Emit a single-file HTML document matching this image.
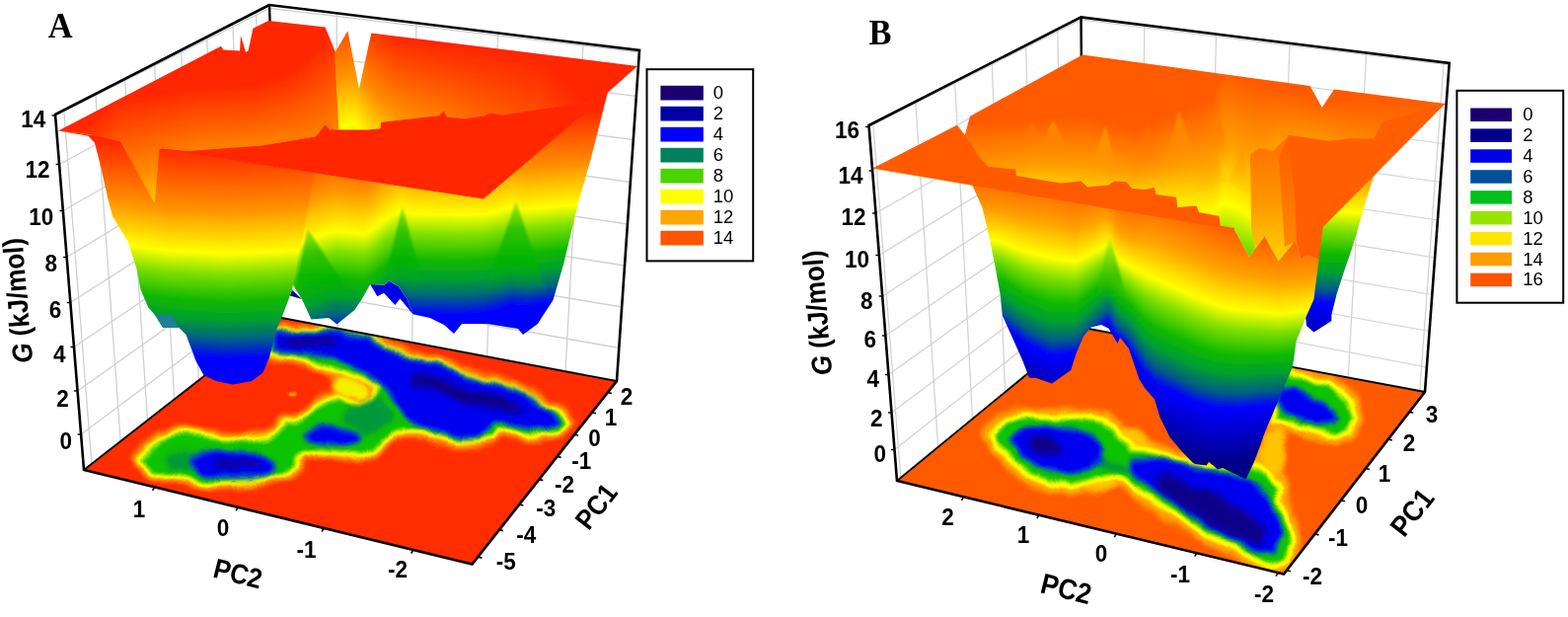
<!DOCTYPE html>
<html lang="en">
<head>
<meta charset="utf-8">
<title>Free energy landscapes</title>
<style>
html,body{margin:0;padding:0;background:#fff;}
body{width:1589px;height:625px;overflow:hidden;}
svg{display:block;}
text{fill:#000;}
</style>
</head>
<body>
<svg width="1589" height="625" viewBox="0 0 1589 625">
<defs>
<filter id="hbl" x="-2%" y="-2%" width="104%" height="104%"><feGaussianBlur stdDeviation="2.2 0"/></filter>
<filter id="bl2" x="-10%" y="-10%" width="120%" height="120%"><feGaussianBlur stdDeviation="2"/></filter>
<filter id="bl3" x="-10%" y="-10%" width="120%" height="120%"><feGaussianBlur stdDeviation="3"/></filter>
<filter id="wob" filterUnits="userSpaceOnUse" x="0" y="280" width="1589" height="345"><feTurbulence type="fractalNoise" baseFrequency="0.035" numOctaves="2" seed="11" result="n"/><feDisplacementMap in="SourceGraphic" in2="n" scale="11" xChannelSelector="R" yChannelSelector="G"/><feGaussianBlur stdDeviation="0.55"/></filter>
<filter id="bl1" x="-10%" y="-10%" width="120%" height="120%"><feGaussianBlur stdDeviation="1.3"/></filter>
<linearGradient id="cmA" gradientUnits="userSpaceOnUse" x1="0" x2="0" y1="0" y2="1"><stop offset="0.000" stop-color="#ff2600"/><stop offset="0.290" stop-color="#ff9000"/><stop offset="0.500" stop-color="#ffff00"/><stop offset="0.600" stop-color="#80e000"/><stop offset="0.730" stop-color="#10b800"/><stop offset="0.820" stop-color="#00a030"/><stop offset="0.900" stop-color="#006a78"/><stop offset="1.000" stop-color="#0000ff"/></linearGradient>
<clipPath id="floorA"><polygon points="85.0,476.0 283.0,321.5 625.0,386.0 478.5,571.5"/></clipPath>
<clipPath id="c1"><polygon points="316.0,174.5 490.0,201.0 616.0,93.0 599.0,160.0 586.0,206.0 578.5,237.0 571.0,268.0 560.5,304.0 550.0,320.0 545.0,328.0 530.0,339.0 525.0,333.0 494.0,328.0 468.0,328.0 460.0,338.0 450.0,329.0 435.7,322.0 418.4,318.3 412.6,303.2 404.0,290.2 394.0,284.5 389.6,288.8 375.2,288.0 366.6,303.2 359.4,314.0 341.4,328.4 333.4,322.0 315.4,323.4 306.0,303.0 296.0,287.0"/></clipPath>
<linearGradient id="c1s0" href="#cmA" y1="143.0" y2="353.0"/>
<linearGradient id="c1s1" href="#cmA" y1="143.0" y2="353.0"/>
<linearGradient id="c1s2" href="#cmA" y1="143.0" y2="353.0"/>
<linearGradient id="c1s3" href="#cmA" y1="142.6" y2="352.4"/>
<linearGradient id="c1s4" href="#cmA" y1="141.8" y2="351.2"/>
<linearGradient id="c1s5" href="#cmA" y1="140.9" y2="350.1"/>
<linearGradient id="c1s6" href="#cmA" y1="140.1" y2="348.9"/>
<linearGradient id="c1s7" href="#cmA" y1="139.3" y2="347.7"/>
<linearGradient id="c1s8" href="#cmA" y1="138.4" y2="346.6"/>
<linearGradient id="c1s9" href="#cmA" y1="137.6" y2="345.4"/>
<linearGradient id="c1s10" href="#cmA" y1="136.8" y2="344.2"/>
<linearGradient id="c1s11" href="#cmA" y1="136.0" y2="343.1"/>
<linearGradient id="c1s12" href="#cmA" y1="135.3" y2="342.0"/>
<linearGradient id="c1s13" href="#cmA" y1="134.5" y2="341.0"/>
<linearGradient id="c1s14" href="#cmA" y1="133.8" y2="339.9"/>
<linearGradient id="c1s15" href="#cmA" y1="133.1" y2="338.8"/>
<linearGradient id="c1s16" href="#cmA" y1="132.4" y2="337.7"/>
<linearGradient id="c1s17" href="#cmA" y1="131.6" y2="336.7"/>
<linearGradient id="c1s18" href="#cmA" y1="131.7" y2="336.7"/>
<linearGradient id="c1s19" href="#cmA" y1="132.0" y2="337.0"/>
<linearGradient id="c1s20" href="#cmA" y1="132.3" y2="337.3"/>
<linearGradient id="c1s21" href="#cmA" y1="132.6" y2="337.6"/>
<linearGradient id="c1s22" href="#cmA" y1="132.9" y2="337.9"/>
<linearGradient id="c1s23" href="#cmA" y1="133.2" y2="338.2"/>
<linearGradient id="c1s24" href="#cmA" y1="133.5" y2="338.5"/>
<linearGradient id="c1s25" href="#cmA" y1="133.8" y2="338.8"/>
<linearGradient id="c1s26" href="#cmA" y1="134.1" y2="339.1"/>
<linearGradient id="c1s27" href="#cmA" y1="134.4" y2="339.4"/>
<linearGradient id="c1s28" href="#cmA" y1="133.4" y2="338.4"/>
<linearGradient id="c1s29" href="#cmA" y1="131.1" y2="336.1"/>
<linearGradient id="c1s30" href="#cmA" y1="128.8" y2="333.8"/>
<linearGradient id="c1s31" href="#cmA" y1="126.4" y2="331.4"/>
<linearGradient id="c1s32" href="#cmA" y1="124.0" y2="329.0"/>
<linearGradient id="c1s33" href="#cmA" y1="121.7" y2="326.7"/>
<linearGradient id="c1s34" href="#cmA" y1="119.3" y2="324.3"/>
<linearGradient id="c1s35" href="#cmA" y1="117.5" y2="322.5"/>
<linearGradient id="c1s36" href="#cmA" y1="115.7" y2="320.7"/>
<linearGradient id="c1s37" href="#cmA" y1="114.0" y2="319.0"/>
<linearGradient id="c1s38" href="#cmA" y1="112.3" y2="317.3"/>
<linearGradient id="c1s39" href="#cmA" y1="110.6" y2="315.6"/>
<linearGradient id="c1s40" href="#cmA" y1="110.7" y2="315.7"/>
<linearGradient id="c1s41" href="#cmA" y1="111.8" y2="316.8"/>
<linearGradient id="c1s42" href="#cmA" y1="112.9" y2="317.9"/>
<linearGradient id="c1s43" href="#cmA" y1="113.8" y2="318.8"/>
<linearGradient id="c1s44" href="#cmA" y1="113.9" y2="318.9"/>
<linearGradient id="c1s45" href="#cmA" y1="113.9" y2="318.9"/>
<linearGradient id="c1s46" href="#cmA" y1="114.0" y2="319.0"/>
<linearGradient id="c1s47" href="#cmA" y1="114.1" y2="319.1"/>
<linearGradient id="c1s48" href="#cmA" y1="114.1" y2="319.1"/>
<linearGradient id="c1s49" href="#cmA" y1="114.2" y2="319.2"/>
<linearGradient id="c1s50" href="#cmA" y1="114.2" y2="319.2"/>
<linearGradient id="c1s51" href="#cmA" y1="114.3" y2="319.3"/>
<linearGradient id="c1s52" href="#cmA" y1="114.5" y2="319.3"/>
<linearGradient id="c1s53" href="#cmA" y1="114.6" y2="319.3"/>
<linearGradient id="c1s54" href="#cmA" y1="114.8" y2="319.3"/>
<linearGradient id="c1s55" href="#cmA" y1="115.0" y2="319.3"/>
<linearGradient id="c1s56" href="#cmA" y1="115.2" y2="319.3"/>
<linearGradient id="c1s57" href="#cmA" y1="115.4" y2="319.3"/>
<linearGradient id="c1s58" href="#cmA" y1="115.6" y2="319.3"/>
<linearGradient id="c1s59" href="#cmA" y1="115.8" y2="319.3"/>
<linearGradient id="c1s60" href="#cmA" y1="115.9" y2="319.2"/>
<linearGradient id="c1s61" href="#cmA" y1="116.0" y2="319.0"/>
<linearGradient id="c1s62" href="#cmA" y1="116.0" y2="318.8"/>
<linearGradient id="c1s63" href="#cmA" y1="116.1" y2="318.6"/>
<linearGradient id="c1s64" href="#cmA" y1="116.1" y2="318.3"/>
<linearGradient id="c1s65" href="#cmA" y1="116.1" y2="318.1"/>
<linearGradient id="c1s66" href="#cmA" y1="116.2" y2="317.9"/>
<linearGradient id="c1s67" href="#cmA" y1="116.2" y2="317.6"/>
<linearGradient id="c1s68" href="#cmA" y1="116.3" y2="317.4"/>
<linearGradient id="c1s69" href="#cmA" y1="115.9" y2="316.7"/>
<linearGradient id="c1s70" href="#cmA" y1="115.2" y2="315.8"/>
<linearGradient id="c1s71" href="#cmA" y1="114.5" y2="314.8"/>
<linearGradient id="c1s72" href="#cmA" y1="113.9" y2="313.9"/>
<linearGradient id="c1s73" href="#cmA" y1="113.2" y2="313.0"/>
<linearGradient id="c1s74" href="#cmA" y1="112.5" y2="312.0"/>
<linearGradient id="c1s75" href="#cmA" y1="111.9" y2="311.1"/>
<linearGradient id="c1s76" href="#cmA" y1="111.2" y2="310.1"/>
<linearGradient id="c1s77" href="#cmA" y1="110.7" y2="309.4"/>
<linearGradient id="c1s78" href="#cmA" y1="111.2" y2="309.7"/>
<linearGradient id="c1s79" href="#cmA" y1="111.8" y2="309.9"/>
<linearGradient id="c1s80" href="#cmA" y1="112.3" y2="310.2"/>
<linearGradient id="c1s81" href="#cmA" y1="112.8" y2="310.4"/>
<linearGradient id="c1s82" href="#cmA" y1="113.3" y2="310.7"/>
<linearGradient id="c1s83" href="#cmA" y1="113.2" y2="310.2"/>
<linearGradient id="c1s84" href="#cmA" y1="113.0" y2="309.8"/>
<linearGradient id="c1s85" href="#cmA" y1="112.9" y2="309.4"/>
<linearGradient id="c1s86" href="#cmA" y1="112.7" y2="308.9"/>
<linearGradient id="c1s87" href="#cmA" y1="112.5" y2="308.5"/>
<linearGradient id="c1s88" href="#cmA" y1="112.4" y2="308.1"/>
<linearGradient id="c1s89" href="#cmA" y1="112.2" y2="307.7"/>
<linearGradient id="c1s90" href="#cmA" y1="112.0" y2="307.2"/>
<linearGradient id="c1s91" href="#cmA" y1="111.9" y2="306.8"/>
<linearGradient id="c1s92" href="#cmA" y1="111.7" y2="306.4"/>
<linearGradient id="c1s93" href="#cmA" y1="111.6" y2="305.9"/>
<linearGradient id="c1s94" href="#cmA" y1="111.4" y2="305.5"/>
<linearGradient id="c1s95" href="#cmA" y1="111.3" y2="305.2"/>
<linearGradient id="c1s96" href="#cmA" y1="111.2" y2="304.9"/>
<linearGradient id="c1s97" href="#cmA" y1="111.1" y2="304.5"/>
<linearGradient id="c1s98" href="#cmA" y1="111.1" y2="304.2"/>
<linearGradient id="c1s99" href="#cmA" y1="111.0" y2="303.9"/>
<linearGradient id="c1s100" href="#cmA" y1="110.9" y2="303.5"/>
<linearGradient id="c1s101" href="#cmA" y1="110.8" y2="303.2"/>
<linearGradient id="c1s102" href="#cmA" y1="110.7" y2="302.8"/>
<linearGradient id="c1s103" href="#cmA" y1="110.6" y2="302.5"/>
<linearGradient id="c1s104" href="#cmA" y1="110.6" y2="302.2"/>
<linearGradient id="c1s105" href="#cmA" y1="110.5" y2="301.8"/>
<linearGradient id="c1s106" href="#cmA" y1="110.4" y2="301.5"/>
<linearGradient id="c1s107" href="#cmA" y1="110.3" y2="301.2"/>
<linearGradient id="c1s108" href="#cmA" y1="110.2" y2="300.8"/>
<linearGradient id="c1s109" href="#cmA" y1="110.1" y2="300.5"/>
<linearGradient id="c1s110" href="#cmA" y1="110.0" y2="300.2"/>
<linearGradient id="c1s111" href="#cmA" y1="110.0" y2="300.0"/>
<linearGradient id="c1s112" href="#cmA" y1="110.0" y2="300.0"/>
<clipPath id="cwR"><polygon points="316.0,174.5 490.0,201.0 616.0,93.0 599.0,160.0 586.0,206.0 578.5,237.0 571.0,268.0 560.5,304.0 550.0,320.0 545.0,328.0 530.0,339.0 525.0,333.0 494.0,328.0 468.0,328.0 460.0,338.0 450.0,329.0 435.7,322.0 418.4,318.3 412.6,303.2 404.0,290.2 394.0,284.5 389.6,288.8 375.2,288.0 366.6,303.2 359.4,314.0 341.4,328.4 333.4,322.0 315.4,323.4 306.0,303.0 296.0,287.0"/></clipPath>
<linearGradient id="r2" gradientUnits="userSpaceOnUse" x1="0" x2="0" y1="209.0" y2="296.0"><stop offset="0" stop-color="#9be400"/><stop offset="0.28" stop-color="#2cc000"/><stop offset="0.62" stop-color="#00b400"/><stop offset="1" stop-color="#00a030" stop-opacity="0"/></linearGradient>
<linearGradient id="r3" gradientUnits="userSpaceOnUse" x1="0" x2="0" y1="204.0" y2="300.0"><stop offset="0" stop-color="#9be400"/><stop offset="0.28" stop-color="#2cc000"/><stop offset="0.62" stop-color="#00b400"/><stop offset="1" stop-color="#00a030" stop-opacity="0"/></linearGradient>
<linearGradient id="r4" gradientUnits="userSpaceOnUse" x1="0" x2="0" y1="232.0" y2="312.0"><stop offset="0" stop-color="#9be400"/><stop offset="0.28" stop-color="#2cc000"/><stop offset="0.62" stop-color="#00b400"/><stop offset="1" stop-color="#00a030" stop-opacity="0"/></linearGradient>
<clipPath id="c5"><polygon points="59.0,132.6 95.0,137.0 123.0,138.0 163.0,151.0 319.0,175.0 296.0,293.8 294.6,297.4 286.0,320.5 280.6,332.8 273.0,362.0 266.5,377.6 255.0,386.0 235.8,389.6 219.0,386.0 206.4,380.0 198.7,366.0 188.5,339.0 181.0,331.5 165.0,331.5 157.7,320.0 150.0,311.0 142.4,293.0 138.6,272.6 129.6,244.5 114.0,219.0 108.8,199.0 102.4,170.0 96.0,144.8 89.6,137.8"/></clipPath>
<linearGradient id="c5s0" href="#cmA" y1="137.5" y2="342.5"/>
<linearGradient id="c5s1" href="#cmA" y1="137.5" y2="342.5"/>
<linearGradient id="c5s2" href="#cmA" y1="137.8" y2="343.0"/>
<linearGradient id="c5s3" href="#cmA" y1="138.5" y2="343.9"/>
<linearGradient id="c5s4" href="#cmA" y1="139.2" y2="344.8"/>
<linearGradient id="c5s5" href="#cmA" y1="139.9" y2="345.8"/>
<linearGradient id="c5s6" href="#cmA" y1="140.6" y2="346.7"/>
<linearGradient id="c5s7" href="#cmA" y1="141.3" y2="347.7"/>
<linearGradient id="c5s8" href="#cmA" y1="142.0" y2="348.6"/>
<linearGradient id="c5s9" href="#cmA" y1="142.7" y2="349.5"/>
<linearGradient id="c5s10" href="#cmA" y1="142.9" y2="350.0"/>
<linearGradient id="c5s11" href="#cmA" y1="143.2" y2="350.5"/>
<linearGradient id="c5s12" href="#cmA" y1="143.5" y2="351.0"/>
<linearGradient id="c5s13" href="#cmA" y1="143.8" y2="351.6"/>
<linearGradient id="c5s14" href="#cmA" y1="144.1" y2="352.2"/>
<linearGradient id="c5s15" href="#cmA" y1="144.9" y2="353.2"/>
<linearGradient id="c5s16" href="#cmA" y1="145.7" y2="354.2"/>
<linearGradient id="c5s17" href="#cmA" y1="146.5" y2="355.2"/>
<linearGradient id="c5s18" href="#cmA" y1="147.2" y2="356.2"/>
<linearGradient id="c5s19" href="#cmA" y1="148.0" y2="357.3"/>
<linearGradient id="c5s20" href="#cmA" y1="148.8" y2="358.3"/>
<linearGradient id="c5s21" href="#cmA" y1="149.3" y2="359.0"/>
<linearGradient id="c5s22" href="#cmA" y1="149.5" y2="359.4"/>
<linearGradient id="c5s23" href="#cmA" y1="149.6" y2="359.9"/>
<linearGradient id="c5s24" href="#cmA" y1="149.8" y2="360.3"/>
<linearGradient id="c5s25" href="#cmA" y1="150.0" y2="360.7"/>
<linearGradient id="c5s26" href="#cmA" y1="150.2" y2="361.1"/>
<linearGradient id="c5s27" href="#cmA" y1="150.4" y2="361.5"/>
<linearGradient id="c5s28" href="#cmA" y1="150.6" y2="361.9"/>
<linearGradient id="c5s29" href="#cmA" y1="150.7" y2="362.4"/>
<linearGradient id="c5s30" href="#cmA" y1="150.9" y2="362.8"/>
<linearGradient id="c5s31" href="#cmA" y1="150.9" y2="362.9"/>
<linearGradient id="c5s32" href="#cmA" y1="150.6" y2="362.6"/>
<linearGradient id="c5s33" href="#cmA" y1="150.4" y2="362.4"/>
<linearGradient id="c5s34" href="#cmA" y1="150.2" y2="362.2"/>
<linearGradient id="c5s35" href="#cmA" y1="149.9" y2="361.9"/>
<linearGradient id="c5s36" href="#cmA" y1="149.7" y2="361.7"/>
<linearGradient id="c5s37" href="#cmA" y1="149.4" y2="361.4"/>
<linearGradient id="c5s38" href="#cmA" y1="149.2" y2="361.2"/>
<linearGradient id="c5s39" href="#cmA" y1="148.9" y2="360.9"/>
<linearGradient id="c5s40" href="#cmA" y1="148.5" y2="360.5"/>
<linearGradient id="c5s41" href="#cmA" y1="148.0" y2="360.0"/>
<linearGradient id="c5s42" href="#cmA" y1="147.6" y2="359.6"/>
<linearGradient id="c5s43" href="#cmA" y1="147.1" y2="359.1"/>
<linearGradient id="c5s44" href="#cmA" y1="146.7" y2="358.7"/>
<linearGradient id="c5s45" href="#cmA" y1="146.2" y2="358.2"/>
<linearGradient id="c5s46" href="#cmA" y1="146.0" y2="358.0"/>
<linearGradient id="c5s47" href="#cmA" y1="146.0" y2="358.0"/>
<clipPath id="c6"><polygon points="59.0,132.6 224.0,46.8 226.4,50.4 243.0,51.6 244.0,36.0 249.0,52.8 251.6,51.6 256.4,28.8 272.0,21.0 329.6,27.6 340.4,54.0 345.0,133.0 334.4,132.0 329.6,127.0 325.0,133.0 320.0,139.0 266.0,148.0 190.0,153.6 163.0,151.0 161.6,150.8 156.8,206.0 122.0,143.6 95.0,137.0"/></clipPath>
<linearGradient id="c6s0" href="#cmA" y1="140.0" y2="445.0"/>
<linearGradient id="c6s1" href="#cmA" y1="140.0" y2="445.0"/>
<linearGradient id="c6s2" href="#cmA" y1="138.7" y2="443.3"/>
<linearGradient id="c6s3" href="#cmA" y1="136.0" y2="440.0"/>
<linearGradient id="c6s4" href="#cmA" y1="133.4" y2="436.7"/>
<linearGradient id="c6s5" href="#cmA" y1="130.7" y2="433.3"/>
<linearGradient id="c6s6" href="#cmA" y1="128.1" y2="430.0"/>
<linearGradient id="c6s7" href="#cmA" y1="125.4" y2="426.7"/>
<linearGradient id="c6s8" href="#cmA" y1="120.8" y2="420.4"/>
<linearGradient id="c6s9" href="#cmA" y1="115.8" y2="413.6"/>
<linearGradient id="c6s10" href="#cmA" y1="110.8" y2="406.8"/>
<linearGradient id="c6s11" href="#cmA" y1="105.8" y2="400.0"/>
<linearGradient id="c6s12" href="#cmA" y1="100.8" y2="393.1"/>
<linearGradient id="c6s13" href="#cmA" y1="99.2" y2="389.2"/>
<linearGradient id="c6s14" href="#cmA" y1="98.3" y2="386.0"/>
<linearGradient id="c6s15" href="#cmA" y1="97.5" y2="382.6"/>
<linearGradient id="c6s16" href="#cmA" y1="96.5" y2="379.4"/>
<linearGradient id="c6s17" href="#cmA" y1="95.7" y2="376.0"/>
<linearGradient id="c6s18" href="#cmA" y1="94.8" y2="372.8"/>
<linearGradient id="c6s19" href="#cmA" y1="93.8" y2="369.5"/>
<linearGradient id="c6s20" href="#cmA" y1="93.0" y2="366.1"/>
<linearGradient id="c6s21" href="#cmA" y1="92.0" y2="362.9"/>
<linearGradient id="c6s22" href="#cmA" y1="91.2" y2="359.5"/>
<linearGradient id="c6s23" href="#cmA" y1="90.2" y2="356.2"/>
<linearGradient id="c6s24" href="#cmA" y1="89.3" y2="353.0"/>
<linearGradient id="c6s25" href="#cmA" y1="88.5" y2="349.6"/>
<linearGradient id="c6s26" href="#cmA" y1="87.8" y2="347.4"/>
<linearGradient id="c6s27" href="#cmA" y1="87.5" y2="346.1"/>
<linearGradient id="c6s28" href="#cmA" y1="87.2" y2="344.8"/>
<linearGradient id="c6s29" href="#cmA" y1="87.0" y2="343.4"/>
<linearGradient id="c6s30" href="#cmA" y1="86.7" y2="342.1"/>
<linearGradient id="c6s31" href="#cmA" y1="86.3" y2="340.9"/>
<linearGradient id="c6s32" href="#cmA" y1="86.0" y2="339.6"/>
<linearGradient id="c6s33" href="#cmA" y1="85.8" y2="338.2"/>
<linearGradient id="c6s34" href="#cmA" y1="85.5" y2="336.9"/>
<linearGradient id="c6s35" href="#cmA" y1="85.2" y2="335.6"/>
<linearGradient id="c6s36" href="#cmA" y1="83.9" y2="337.6"/>
<linearGradient id="c6s37" href="#cmA" y1="81.6" y2="342.9"/>
<linearGradient id="c6s38" href="#cmA" y1="79.4" y2="348.1"/>
<linearGradient id="c6s39" href="#cmA" y1="77.1" y2="353.4"/>
<linearGradient id="c6s40" href="#cmA" y1="74.9" y2="358.6"/>
<linearGradient id="c6s41" href="#cmA" y1="72.6" y2="363.9"/>
<linearGradient id="c6s42" href="#cmA" y1="70.4" y2="369.1"/>
<linearGradient id="c6s43" href="#cmA" y1="65.0" y2="381.7"/>
<linearGradient id="c6s44" href="#cmA" y1="59.0" y2="395.7"/>
<linearGradient id="c6s45" href="#cmA" y1="53.0" y2="409.7"/>
<linearGradient id="c6s46" href="#cmA" y1="47.0" y2="423.7"/>
<linearGradient id="c6s47" href="#cmA" y1="41.0" y2="437.7"/>
<linearGradient id="c6s48" href="#cmA" y1="33.8" y2="440.0"/>
<linearGradient id="c6s49" href="#cmA" y1="26.2" y2="440.0"/>
<linearGradient id="c6s50" href="#cmA" y1="20.0" y2="440.0"/>
<linearGradient id="c6s51" href="#cmA" y1="20.0" y2="440.0"/>
<linearGradient id="c6s52" href="#cmA" y1="20.0" y2="440.0"/>
<clipPath id="c7"><polygon points="339.0,54.0 352.4,31.2 363.9,90.0 376.3,33.6 646.0,67.0 606.0,102.4 606.0,102.4 509.0,117.0 496.0,115.0 491.0,118.0 471.8,120.8 452.6,119.0 449.5,113.0 445.0,117.7 386.7,124.3 386.0,130.8 372.7,132.0 343.5,133.0"/></clipPath>
<linearGradient id="c7s0" href="#cmA" y1="3.0" y2="256.0"/>
<linearGradient id="c7s1" href="#cmA" y1="3.0" y2="256.0"/>
<linearGradient id="c7s2" href="#cmA" y1="3.1" y2="256.1"/>
<linearGradient id="c7s3" href="#cmA" y1="3.4" y2="256.4"/>
<linearGradient id="c7s4" href="#cmA" y1="2.8" y2="255.3"/>
<linearGradient id="c7s5" href="#cmA" y1="2.2" y2="254.1"/>
<linearGradient id="c7s6" href="#cmA" y1="1.5" y2="252.8"/>
<linearGradient id="c7s7" href="#cmA" y1="0.8" y2="251.5"/>
<linearGradient id="c7s8" href="#cmA" y1="0.1" y2="250.2"/>
<linearGradient id="c7s9" href="#cmA" y1="2.8" y2="254.7"/>
<linearGradient id="c7s10" href="#cmA" y1="6.2" y2="260.3"/>
<linearGradient id="c7s11" href="#cmA" y1="9.6" y2="265.9"/>
<linearGradient id="c7s12" href="#cmA" y1="12.9" y2="271.6"/>
<linearGradient id="c7s13" href="#cmA" y1="16.3" y2="277.2"/>
<linearGradient id="c7s14" href="#cmA" y1="19.1" y2="281.8"/>
<linearGradient id="c7s15" href="#cmA" y1="21.4" y2="285.2"/>
<linearGradient id="c7s16" href="#cmA" y1="23.6" y2="288.8"/>
<linearGradient id="c7s17" href="#cmA" y1="25.9" y2="292.2"/>
<linearGradient id="c7s18" href="#cmA" y1="28.1" y2="295.8"/>
<linearGradient id="c7s19" href="#cmA" y1="30.4" y2="299.2"/>
<linearGradient id="c7s20" href="#cmA" y1="32.6" y2="302.8"/>
<linearGradient id="c7s21" href="#cmA" y1="34.9" y2="306.2"/>
<linearGradient id="c7s22" href="#cmA" y1="36.3" y2="309.6"/>
<linearGradient id="c7s23" href="#cmA" y1="36.8" y2="312.9"/>
<linearGradient id="c7s24" href="#cmA" y1="37.4" y2="316.2"/>
<linearGradient id="c7s25" href="#cmA" y1="37.9" y2="319.6"/>
<linearGradient id="c7s26" href="#cmA" y1="38.4" y2="322.9"/>
<linearGradient id="c7s27" href="#cmA" y1="39.0" y2="326.1"/>
<linearGradient id="c7s28" href="#cmA" y1="39.5" y2="329.4"/>
<linearGradient id="c7s29" href="#cmA" y1="40.0" y2="332.8"/>
<linearGradient id="c7s30" href="#cmA" y1="40.6" y2="336.1"/>
<linearGradient id="c7s31" href="#cmA" y1="41.1" y2="339.4"/>
<linearGradient id="c7s32" href="#cmA" y1="41.7" y2="342.6"/>
<linearGradient id="c7s33" href="#cmA" y1="42.2" y2="345.9"/>
<linearGradient id="c7s34" href="#cmA" y1="42.8" y2="349.2"/>
<linearGradient id="c7s35" href="#cmA" y1="43.3" y2="352.6"/>
<linearGradient id="c7s36" href="#cmA" y1="43.8" y2="355.9"/>
<linearGradient id="c7s37" href="#cmA" y1="44.4" y2="359.1"/>
<linearGradient id="c7s38" href="#cmA" y1="44.9" y2="362.4"/>
<linearGradient id="c7s39" href="#cmA" y1="45.2" y2="369.0"/>
<linearGradient id="c7s40" href="#cmA" y1="45.5" y2="376.2"/>
<linearGradient id="c7s41" href="#cmA" y1="45.9" y2="383.4"/>
<linearGradient id="c7s42" href="#cmA" y1="46.1" y2="390.6"/>
<linearGradient id="c7s43" href="#cmA" y1="46.5" y2="397.8"/>
<linearGradient id="c7s44" href="#cmA" y1="46.8" y2="405.0"/>
<linearGradient id="c7s45" href="#cmA" y1="47.0" y2="412.2"/>
<linearGradient id="c7s46" href="#cmA" y1="47.4" y2="419.4"/>
<linearGradient id="c7s47" href="#cmA" y1="47.6" y2="426.6"/>
<linearGradient id="c7s48" href="#cmA" y1="48.0" y2="433.8"/>
<linearGradient id="c7s49" href="#cmA" y1="48.2" y2="441.0"/>
<linearGradient id="c7s50" href="#cmA" y1="48.5" y2="448.2"/>
<linearGradient id="c7s51" href="#cmA" y1="48.9" y2="455.4"/>
<linearGradient id="c7s52" href="#cmA" y1="49.1" y2="462.6"/>
<linearGradient id="c7s53" href="#cmA" y1="49.5" y2="469.8"/>
<linearGradient id="c7s54" href="#cmA" y1="49.8" y2="477.0"/>
<linearGradient id="c7s55" href="#cmA" y1="50.1" y2="484.4"/>
<linearGradient id="c7s56" href="#cmA" y1="50.7" y2="492.6"/>
<linearGradient id="c7s57" href="#cmA" y1="51.3" y2="500.8"/>
<linearGradient id="c7s58" href="#cmA" y1="51.9" y2="509.0"/>
<linearGradient id="c7s59" href="#cmA" y1="52.5" y2="517.2"/>
<linearGradient id="c7s60" href="#cmA" y1="53.1" y2="525.5"/>
<linearGradient id="c7s61" href="#cmA" y1="53.7" y2="533.7"/>
<linearGradient id="c7s62" href="#cmA" y1="54.3" y2="541.9"/>
<linearGradient id="c7s63" href="#cmA" y1="54.9" y2="550.1"/>
<linearGradient id="c7s64" href="#cmA" y1="55.5" y2="558.4"/>
<linearGradient id="c7s65" href="#cmA" y1="56.1" y2="566.6"/>
<linearGradient id="c7s66" href="#cmA" y1="56.7" y2="574.8"/>
<linearGradient id="c7s67" href="#cmA" y1="57.3" y2="583.0"/>
<linearGradient id="c7s68" href="#cmA" y1="57.9" y2="591.2"/>
<linearGradient id="c7s69" href="#cmA" y1="58.5" y2="599.5"/>
<linearGradient id="c7s70" href="#cmA" y1="59.1" y2="607.7"/>
<linearGradient id="c7s71" href="#cmA" y1="59.7" y2="615.9"/>
<linearGradient id="c7s72" href="#cmA" y1="61.5" y2="628.7"/>
<linearGradient id="c7s73" href="#cmA" y1="64.5" y2="646.1"/>
<linearGradient id="c7s74" href="#cmA" y1="67.5" y2="663.5"/>
<linearGradient id="c7s75" href="#cmA" y1="70.5" y2="680.9"/>
<linearGradient id="c7s76" href="#cmA" y1="73.5" y2="698.3"/>
<linearGradient id="c7s77" href="#cmA" y1="76.5" y2="715.7"/>
<linearGradient id="c7s78" href="#cmA" y1="79.5" y2="733.1"/>
<linearGradient id="c7s79" href="#cmA" y1="82.5" y2="750.5"/>
<linearGradient id="c7s80" href="#cmA" y1="85.5" y2="767.9"/>
<linearGradient id="c7s81" href="#cmA" y1="88.5" y2="785.3"/>
<linearGradient id="c7s82" href="#cmA" y1="91.5" y2="802.7"/>
<linearGradient id="c7s83" href="#cmA" y1="94.5" y2="820.1"/>
<linearGradient id="c7s84" href="#cmA" y1="97.5" y2="837.5"/>
<linearGradient id="c7s85" href="#cmA" y1="100.5" y2="854.9"/>
<linearGradient id="c7s86" href="#cmA" y1="103.5" y2="872.3"/>
<linearGradient id="c7s87" href="#cmA" y1="106.5" y2="889.7"/>
<linearGradient id="c7s88" href="#cmA" y1="109.5" y2="907.1"/>
<linearGradient id="c7s89" href="#cmA" y1="110.0" y2="910.0"/>
<linearGradient id="c7s90" href="#cmA" y1="110.0" y2="910.0"/>
<linearGradient id="c7s91" href="#cmA" y1="110.0" y2="910.0"/>
<linearGradient id="c7s92" href="#cmA" y1="110.0" y2="910.0"/>
<linearGradient id="c7s93" href="#cmA" y1="110.0" y2="910.0"/>
<linearGradient id="c7s94" href="#cmA" y1="110.0" y2="910.0"/>
<linearGradient id="c7s95" href="#cmA" y1="110.0" y2="910.0"/>
<linearGradient id="c7s96" href="#cmA" y1="110.0" y2="910.0"/>
<linearGradient id="c7s97" href="#cmA" y1="110.0" y2="910.0"/>
<linearGradient id="c7s98" href="#cmA" y1="110.0" y2="910.0"/>
<linearGradient id="c7s99" href="#cmA" y1="110.0" y2="910.0"/>
<linearGradient id="c7s100" href="#cmA" y1="110.0" y2="910.0"/>
<linearGradient id="c7s101" href="#cmA" y1="110.0" y2="910.0"/>
<linearGradient id="c7s102" href="#cmA" y1="110.0" y2="910.0"/>
<linearGradient id="c7s103" href="#cmA" y1="110.0" y2="910.0"/>
<linearGradient id="c7s104" href="#cmA" y1="110.0" y2="910.0"/>
<linearGradient id="c7s105" href="#cmA" y1="110.0" y2="910.0"/>
<linearGradient id="c7s106" href="#cmA" y1="110.0" y2="910.0"/>
<linearGradient id="c7s107" href="#cmA" y1="110.0" y2="910.0"/>
<linearGradient id="cmB" gradientUnits="userSpaceOnUse" x1="0" x2="0" y1="0" y2="1"><stop offset="0.000" stop-color="#ff5a00"/><stop offset="0.192" stop-color="#ffa000"/><stop offset="0.346" stop-color="#ffff00"/><stop offset="0.431" stop-color="#84e000"/><stop offset="0.546" stop-color="#0cb800"/><stop offset="0.623" stop-color="#00a030"/><stop offset="0.708" stop-color="#005a88"/><stop offset="0.769" stop-color="#0000ff"/><stop offset="1.000" stop-color="#000088"/></linearGradient>
<clipPath id="floorB"><polygon points="909.0,487.0 1098.0,332.0 1444.0,397.0 1301.0,581.5"/></clipPath>
<clipPath id="c8"><polygon points="1395.5,167.7 1339.0,220.0 1335.0,262.0 1333.0,283.0 1330.0,303.0 1323.0,320.0 1324.0,330.0 1331.5,336.6 1349.4,325.0 1349.4,318.7 1354.6,298.0 1362.0,275.0 1370.0,252.0 1377.6,226.6 1385.0,201.0"/></clipPath>
<linearGradient id="c8s0" href="#cmB" y1="136.0" y2="357.0"/>
<linearGradient id="c8s1" href="#cmB" y1="136.0" y2="357.0"/>
<linearGradient id="c8s2" href="#cmB" y1="136.1" y2="357.1"/>
<linearGradient id="c8s3" href="#cmB" y1="136.3" y2="357.3"/>
<linearGradient id="c8s4" href="#cmB" y1="136.5" y2="357.5"/>
<linearGradient id="c8s5" href="#cmB" y1="136.7" y2="357.7"/>
<linearGradient id="c8s6" href="#cmB" y1="136.9" y2="357.9"/>
<linearGradient id="c8s7" href="#cmB" y1="137.1" y2="358.1"/>
<linearGradient id="c8s8" href="#cmB" y1="137.3" y2="358.3"/>
<linearGradient id="c8s9" href="#cmB" y1="137.5" y2="358.5"/>
<linearGradient id="c8s10" href="#cmB" y1="137.7" y2="358.7"/>
<linearGradient id="c8s11" href="#cmB" y1="137.9" y2="358.9"/>
<linearGradient id="c8s12" href="#cmB" y1="138.1" y2="359.1"/>
<linearGradient id="c8s13" href="#cmB" y1="138.3" y2="359.3"/>
<linearGradient id="c8s14" href="#cmB" y1="138.5" y2="359.5"/>
<linearGradient id="c8s15" href="#cmB" y1="138.7" y2="359.7"/>
<linearGradient id="c8s16" href="#cmB" y1="138.9" y2="359.9"/>
<linearGradient id="c8s17" href="#cmB" y1="139.1" y2="360.1"/>
<linearGradient id="c8s18" href="#cmB" y1="139.3" y2="360.3"/>
<linearGradient id="c8s19" href="#cmB" y1="139.5" y2="360.5"/>
<linearGradient id="c8s20" href="#cmB" y1="139.7" y2="360.7"/>
<linearGradient id="c8s21" href="#cmB" y1="139.9" y2="360.9"/>
<linearGradient id="c8s22" href="#cmB" y1="140.0" y2="361.0"/>
<linearGradient id="c8s23" href="#cmB" y1="140.0" y2="361.0"/>
<clipPath id="c9"><polygon points="884.5,170.5 970.0,127.0 977.7,137.0 983.0,117.7 1097.0,55.5 1327.6,87.0 1339.7,108.8 1352.0,90.5 1464.6,105.0 1339.0,221.4 1336.6,262.4 1324.0,258.6 1318.7,262.4 1312.0,244.5 1295.7,265.0 1281.6,239.4 1266.0,260.0 1251.0,233.0"/></clipPath>
<linearGradient id="c9s0" href="#cmB" y1="124.0" y2="393.1"/>
<linearGradient id="c9s1" href="#cmB" y1="124.0" y2="393.1"/>
<linearGradient id="c9s2" href="#cmB" y1="124.0" y2="393.1"/>
<linearGradient id="c9s3" href="#cmB" y1="124.0" y2="393.1"/>
<linearGradient id="c9s4" href="#cmB" y1="124.0" y2="393.1"/>
<linearGradient id="c9s5" href="#cmB" y1="124.0" y2="393.1"/>
<linearGradient id="c9s6" href="#cmB" y1="124.0" y2="393.1"/>
<linearGradient id="c9s7" href="#cmB" y1="124.0" y2="393.1"/>
<linearGradient id="c9s8" href="#cmB" y1="124.0" y2="393.1"/>
<linearGradient id="c9s9" href="#cmB" y1="124.0" y2="393.1"/>
<linearGradient id="c9s10" href="#cmB" y1="124.0" y2="393.1"/>
<linearGradient id="c9s11" href="#cmB" y1="124.0" y2="393.1"/>
<linearGradient id="c9s12" href="#cmB" y1="124.0" y2="393.1"/>
<linearGradient id="c9s13" href="#cmB" y1="124.0" y2="393.1"/>
<linearGradient id="c9s14" href="#cmB" y1="124.0" y2="393.1"/>
<linearGradient id="c9s15" href="#cmB" y1="124.0" y2="393.1"/>
<linearGradient id="c9s16" href="#cmB" y1="124.0" y2="393.1"/>
<linearGradient id="c9s17" href="#cmB" y1="124.0" y2="393.1"/>
<linearGradient id="c9s18" href="#cmB" y1="124.0" y2="393.1"/>
<linearGradient id="c9s19" href="#cmB" y1="124.0" y2="393.1"/>
<linearGradient id="c9s20" href="#cmB" y1="124.0" y2="393.1"/>
<linearGradient id="c9s21" href="#cmB" y1="124.0" y2="393.1"/>
<linearGradient id="c9s22" href="#cmB" y1="124.0" y2="393.1"/>
<linearGradient id="c9s23" href="#cmB" y1="124.0" y2="393.1"/>
<linearGradient id="c9s24" href="#cmB" y1="124.0" y2="393.1"/>
<linearGradient id="c9s25" href="#cmB" y1="124.0" y2="393.1"/>
<linearGradient id="c9s26" href="#cmB" y1="124.0" y2="393.1"/>
<linearGradient id="c9s27" href="#cmB" y1="124.0" y2="393.1"/>
<linearGradient id="c9s28" href="#cmB" y1="124.0" y2="393.1"/>
<linearGradient id="c9s29" href="#cmB" y1="124.0" y2="393.1"/>
<linearGradient id="c9s30" href="#cmB" y1="124.0" y2="393.1"/>
<linearGradient id="c9s31" href="#cmB" y1="124.0" y2="393.1"/>
<linearGradient id="c9s32" href="#cmB" y1="123.8" y2="392.1"/>
<linearGradient id="c9s33" href="#cmB" y1="123.5" y2="390.0"/>
<linearGradient id="c9s34" href="#cmB" y1="123.2" y2="387.9"/>
<linearGradient id="c9s35" href="#cmB" y1="122.9" y2="385.8"/>
<linearGradient id="c9s36" href="#cmB" y1="122.6" y2="383.7"/>
<linearGradient id="c9s37" href="#cmB" y1="122.2" y2="381.6"/>
<linearGradient id="c9s38" href="#cmB" y1="121.9" y2="379.5"/>
<linearGradient id="c9s39" href="#cmB" y1="121.6" y2="377.4"/>
<linearGradient id="c9s40" href="#cmB" y1="121.3" y2="375.4"/>
<linearGradient id="c9s41" href="#cmB" y1="121.0" y2="373.3"/>
<linearGradient id="c9s42" href="#cmB" y1="120.6" y2="371.2"/>
<linearGradient id="c9s43" href="#cmB" y1="120.3" y2="369.1"/>
<linearGradient id="c9s44" href="#cmB" y1="120.0" y2="367.0"/>
<linearGradient id="c9s45" href="#cmB" y1="119.8" y2="369.4"/>
<linearGradient id="c9s46" href="#cmB" y1="119.5" y2="371.7"/>
<linearGradient id="c9s47" href="#cmB" y1="119.3" y2="374.1"/>
<linearGradient id="c9s48" href="#cmB" y1="119.0" y2="376.4"/>
<linearGradient id="c9s49" href="#cmB" y1="118.8" y2="378.8"/>
<linearGradient id="c9s50" href="#cmB" y1="118.6" y2="381.2"/>
<linearGradient id="c9s51" href="#cmB" y1="118.3" y2="383.5"/>
<linearGradient id="c9s52" href="#cmB" y1="118.1" y2="385.9"/>
<linearGradient id="c9s53" href="#cmB" y1="117.8" y2="388.2"/>
<linearGradient id="c9s54" href="#cmB" y1="117.6" y2="390.6"/>
<linearGradient id="c9s55" href="#cmB" y1="117.4" y2="393.0"/>
<linearGradient id="c9s56" href="#cmB" y1="117.1" y2="395.3"/>
<linearGradient id="c9s57" href="#cmB" y1="117.5" y2="395.7"/>
<linearGradient id="c9s58" href="#cmB" y1="118.6" y2="394.2"/>
<linearGradient id="c9s59" href="#cmB" y1="119.6" y2="392.6"/>
<linearGradient id="c9s60" href="#cmB" y1="120.6" y2="391.0"/>
<linearGradient id="c9s61" href="#cmB" y1="121.7" y2="389.5"/>
<linearGradient id="c9s62" href="#cmB" y1="122.7" y2="387.9"/>
<linearGradient id="c9s63" href="#cmB" y1="123.8" y2="386.4"/>
<linearGradient id="c9s64" href="#cmB" y1="124.8" y2="384.8"/>
<linearGradient id="c9s65" href="#cmB" y1="125.8" y2="383.2"/>
<linearGradient id="c9s66" href="#cmB" y1="126.9" y2="381.7"/>
<linearGradient id="c9s67" href="#cmB" y1="127.9" y2="380.1"/>
<linearGradient id="c9s68" href="#cmB" y1="129.0" y2="378.6"/>
<linearGradient id="c9s69" href="#cmB" y1="130.0" y2="377.0"/>
<linearGradient id="c9s70" href="#cmB" y1="128.4" y2="380.1"/>
<linearGradient id="c9s71" href="#cmB" y1="126.8" y2="383.2"/>
<linearGradient id="c9s72" href="#cmB" y1="125.2" y2="386.2"/>
<linearGradient id="c9s73" href="#cmB" y1="123.6" y2="389.3"/>
<linearGradient id="c9s74" href="#cmB" y1="122.0" y2="392.4"/>
<linearGradient id="c9s75" href="#cmB" y1="120.4" y2="395.5"/>
<linearGradient id="c9s76" href="#cmB" y1="118.8" y2="398.6"/>
<linearGradient id="c9s77" href="#cmB" y1="117.2" y2="401.6"/>
<linearGradient id="c9s78" href="#cmB" y1="115.6" y2="404.7"/>
<linearGradient id="c9s79" href="#cmB" y1="114.0" y2="407.8"/>
<linearGradient id="c9s80" href="#cmB" y1="112.4" y2="410.9"/>
<linearGradient id="c9s81" href="#cmB" y1="110.8" y2="414.0"/>
<linearGradient id="c9s82" href="#cmB" y1="109.3" y2="417.1"/>
<linearGradient id="c9s83" href="#cmB" y1="107.9" y2="420.3"/>
<linearGradient id="c9s84" href="#cmB" y1="106.4" y2="423.5"/>
<linearGradient id="c9s85" href="#cmB" y1="105.0" y2="426.8"/>
<linearGradient id="c9s86" href="#cmB" y1="103.6" y2="430.0"/>
<linearGradient id="c9s87" href="#cmB" y1="102.1" y2="433.2"/>
<linearGradient id="c9s88" href="#cmB" y1="100.7" y2="436.4"/>
<linearGradient id="c9s89" href="#cmB" y1="95.0" y2="441.7"/>
<linearGradient id="c9s90" href="#cmB" y1="85.0" y2="449.0"/>
<linearGradient id="c9s91" href="#cmB" y1="75.0" y2="456.3"/>
<linearGradient id="c9s92" href="#cmB" y1="70.9" y2="460.9"/>
<linearGradient id="c9s93" href="#cmB" y1="72.6" y2="462.6"/>
<linearGradient id="c9s94" href="#cmB" y1="74.3" y2="464.3"/>
<linearGradient id="c9s95" href="#cmB" y1="76.0" y2="466.0"/>
<linearGradient id="c9s96" href="#cmB" y1="77.7" y2="467.7"/>
<linearGradient id="c9s97" href="#cmB" y1="79.4" y2="469.4"/>
<linearGradient id="c9s98" href="#cmB" y1="81.1" y2="471.1"/>
<linearGradient id="c9s99" href="#cmB" y1="82.9" y2="472.9"/>
<linearGradient id="c9s100" href="#cmB" y1="84.6" y2="474.6"/>
<linearGradient id="c9s101" href="#cmB" y1="85.6" y2="464.7"/>
<linearGradient id="c9s102" href="#cmB" y1="86.4" y2="450.9"/>
<linearGradient id="c9s103" href="#cmB" y1="87.2" y2="437.2"/>
<linearGradient id="c9s104" href="#cmB" y1="88.0" y2="423.4"/>
<linearGradient id="c9s105" href="#cmB" y1="88.8" y2="409.6"/>
<linearGradient id="c9s106" href="#cmB" y1="89.6" y2="395.9"/>
<linearGradient id="c9s107" href="#cmB" y1="90.5" y2="387.6"/>
<linearGradient id="c9s108" href="#cmB" y1="91.5" y2="384.7"/>
<linearGradient id="c9s109" href="#cmB" y1="92.5" y2="381.8"/>
<linearGradient id="c9s110" href="#cmB" y1="93.5" y2="378.9"/>
<linearGradient id="c9s111" href="#cmB" y1="94.5" y2="375.9"/>
<linearGradient id="c9s112" href="#cmB" y1="95.5" y2="373.1"/>
<linearGradient id="c9s113" href="#cmB" y1="96.5" y2="370.2"/>
<linearGradient id="c9s114" href="#cmB" y1="97.5" y2="367.2"/>
<linearGradient id="c9s115" href="#cmB" y1="98.5" y2="364.4"/>
<linearGradient id="c9s116" href="#cmB" y1="99.5" y2="361.4"/>
<linearGradient id="c9s117" href="#cmB" y1="100.0" y2="364.3"/>
<linearGradient id="c9s118" href="#cmB" y1="100.0" y2="373.0"/>
<linearGradient id="c9s119" href="#cmB" y1="100.0" y2="381.7"/>
<linearGradient id="c9s120" href="#cmB" y1="100.0" y2="390.3"/>
<linearGradient id="c9s121" href="#cmB" y1="100.0" y2="399.0"/>
<linearGradient id="c9s122" href="#cmB" y1="100.0" y2="407.7"/>
<linearGradient id="c9s123" href="#cmB" y1="100.0" y2="416.3"/>
<linearGradient id="c9s124" href="#cmB" y1="100.0" y2="425.0"/>
<linearGradient id="c9s125" href="#cmB" y1="100.0" y2="433.7"/>
<linearGradient id="c9s126" href="#cmB" y1="100.0" y2="442.3"/>
<linearGradient id="c9s127" href="#cmB" y1="100.0" y2="451.0"/>
<linearGradient id="c9s128" href="#cmB" y1="100.0" y2="459.7"/>
<linearGradient id="c9s129" href="#cmB" y1="100.0" y2="468.3"/>
<linearGradient id="c9s130" href="#cmB" y1="100.0" y2="477.0"/>
<linearGradient id="c9s131" href="#cmB" y1="100.0" y2="485.7"/>
<linearGradient id="c9s132" href="#cmB" y1="100.0" y2="490.0"/>
<linearGradient id="c9s133" href="#cmB" y1="100.0" y2="490.0"/>
<linearGradient id="c9s134" href="#cmB" y1="100.0" y2="490.0"/>
<linearGradient id="c9s135" href="#cmB" y1="100.0" y2="490.0"/>
<linearGradient id="c9s136" href="#cmB" y1="100.0" y2="490.0"/>
<linearGradient id="c9s137" href="#cmB" y1="100.0" y2="490.0"/>
<linearGradient id="c9s138" href="#cmB" y1="100.0" y2="490.0"/>
<linearGradient id="c9s139" href="#cmB" y1="100.0" y2="490.0"/>
<linearGradient id="c9s140" href="#cmB" y1="100.0" y2="490.0"/>
<linearGradient id="c9s141" href="#cmB" y1="100.0" y2="490.0"/>
<linearGradient id="c9s142" href="#cmB" y1="100.0" y2="490.0"/>
<linearGradient id="c9s143" href="#cmB" y1="100.0" y2="490.0"/>
<linearGradient id="c9s144" href="#cmB" y1="100.0" y2="490.0"/>
<linearGradient id="c9s145" href="#cmB" y1="100.0" y2="490.0"/>
<linearGradient id="c9s146" href="#cmB" y1="100.0" y2="490.0"/>
<linearGradient id="c9s147" href="#cmB" y1="100.0" y2="490.0"/>
<linearGradient id="c9s148" href="#cmB" y1="100.0" y2="490.0"/>
<linearGradient id="c9s149" href="#cmB" y1="100.0" y2="490.0"/>
<linearGradient id="c9s150" href="#cmB" y1="100.0" y2="490.0"/>
<clipPath id="cfB"><polygon points="884.5,170.5 970.0,127.0 977.7,137.0 983.0,117.7 1097.0,55.5 1327.6,87.0 1339.7,108.8 1352.0,90.5 1464.6,105.0 1339.0,221.4 1336.6,262.4 1324.0,258.6 1318.7,262.4 1312.0,244.5 1295.7,265.0 1281.6,239.4 1266.0,260.0 1251.0,233.0"/></clipPath>
<linearGradient id="k10" gradientUnits="userSpaceOnUse" x1="0" x2="0" y1="118.0" y2="170.0"><stop offset="0" stop-color="#ff7000"/><stop offset="1" stop-color="#ff9800" stop-opacity="0"/></linearGradient>
<linearGradient id="k11" gradientUnits="userSpaceOnUse" x1="0" x2="0" y1="149.0" y2="200.0"><stop offset="0" stop-color="#ff9400"/><stop offset="1" stop-color="#ffc000" stop-opacity="0"/></linearGradient>
<linearGradient id="k12" gradientUnits="userSpaceOnUse" x1="0" x2="0" y1="148.0" y2="205.0"><stop offset="0" stop-color="#ff9000"/><stop offset="1" stop-color="#ffd000" stop-opacity="0"/></linearGradient>
<linearGradient id="k13" gradientUnits="userSpaceOnUse" x1="0" x2="0" y1="124.0" y2="152.0"><stop offset="0" stop-color="#ff6a00"/><stop offset="1" stop-color="#ff8c00" stop-opacity="0"/></linearGradient>
<linearGradient id="k14" gradientUnits="userSpaceOnUse" x1="0" x2="0" y1="122.0" y2="150.0"><stop offset="0" stop-color="#ff9200"/><stop offset="1" stop-color="#ff9800" stop-opacity="0"/></linearGradient>
<linearGradient id="k15" gradientUnits="userSpaceOnUse" x1="0" x2="0" y1="124.0" y2="180.0"><stop offset="0" stop-color="#ff6200"/><stop offset="1" stop-color="#ff9000" stop-opacity="0"/></linearGradient>
<linearGradient id="k16" gradientUnits="userSpaceOnUse" x1="0" x2="0" y1="128.0" y2="172.0"><stop offset="0" stop-color="#ff9a00"/><stop offset="1" stop-color="#ffa800" stop-opacity="0"/></linearGradient>
<linearGradient id="k17" gradientUnits="userSpaceOnUse" x1="0" x2="0" y1="112.0" y2="165.0"><stop offset="0" stop-color="#ff8800"/><stop offset="1" stop-color="#ffa000" stop-opacity="0"/></linearGradient>
<linearGradient id="gBcol" gradientUnits="userSpaceOnUse" x1="0" x2="0" y1="150" y2="262"><stop offset="0" stop-color="#ff7400"/><stop offset="0.5" stop-color="#ff9800"/><stop offset="1" stop-color="#ffd000"/></linearGradient>
<linearGradient id="gBcol2" gradientUnits="userSpaceOnUse" x1="0" x2="0" y1="150" y2="262"><stop offset="0" stop-color="#ff6000"/><stop offset="1" stop-color="#ff8c00"/></linearGradient>
<clipPath id="c18"><polygon points="984.5,185.5 1251.0,231.0 1251.0,233.0 1266.0,260.0 1281.6,239.4 1295.7,265.0 1312.0,244.5 1318.7,262.4 1324.0,258.6 1336.6,262.4 1334.0,283.0 1331.5,303.0 1324.0,320.0 1313.6,345.6 1310.0,371.6 1297.0,402.0 1281.8,438.0 1274.0,460.0 1270.0,470.0 1262.4,485.6 1239.0,474.0 1234.0,475.4 1225.0,467.7 1222.7,471.5 1211.0,470.0 1208.6,468.5 1198.4,458.0 1185.6,443.0 1175.4,422.4 1170.0,404.5 1160.0,393.0 1154.4,384.0 1144.0,353.3 1135.0,341.8 1132.6,348.0 1123.6,332.8 1116.0,329.0 1105.7,331.5 1098.0,340.5 1090.4,358.4 1085.2,375.0 1066.0,388.6 1049.4,382.7 1043.0,382.7 1036.6,366.0 1026.4,343.0 1016.0,320.0 1013.6,298.0 1008.5,270.0 1003.4,244.5 995.7,211.0"/></clipPath>
<linearGradient id="c18s0" href="#cmB" y1="177.0" y2="359.0"/>
<linearGradient id="c18s1" href="#cmB" y1="177.0" y2="359.0"/>
<linearGradient id="c18s2" href="#cmB" y1="177.0" y2="359.4"/>
<linearGradient id="c18s3" href="#cmB" y1="177.1" y2="361.0"/>
<linearGradient id="c18s4" href="#cmB" y1="177.3" y2="362.6"/>
<linearGradient id="c18s5" href="#cmB" y1="177.4" y2="364.2"/>
<linearGradient id="c18s6" href="#cmB" y1="177.5" y2="365.8"/>
<linearGradient id="c18s7" href="#cmB" y1="177.6" y2="367.4"/>
<linearGradient id="c18s8" href="#cmB" y1="177.7" y2="369.0"/>
<linearGradient id="c18s9" href="#cmB" y1="177.8" y2="370.9"/>
<linearGradient id="c18s10" href="#cmB" y1="178.1" y2="375.1"/>
<linearGradient id="c18s11" href="#cmB" y1="178.3" y2="379.3"/>
<linearGradient id="c18s12" href="#cmB" y1="178.5" y2="383.5"/>
<linearGradient id="c18s13" href="#cmB" y1="178.7" y2="387.8"/>
<linearGradient id="c18s14" href="#cmB" y1="178.9" y2="392.0"/>
<linearGradient id="c18s15" href="#cmB" y1="179.2" y2="396.2"/>
<linearGradient id="c18s16" href="#cmB" y1="179.3" y2="399.2"/>
<linearGradient id="c18s17" href="#cmB" y1="179.4" y2="401.9"/>
<linearGradient id="c18s18" href="#cmB" y1="179.5" y2="404.5"/>
<linearGradient id="c18s19" href="#cmB" y1="179.6" y2="407.1"/>
<linearGradient id="c18s20" href="#cmB" y1="179.7" y2="409.7"/>
<linearGradient id="c18s21" href="#cmB" y1="179.8" y2="412.4"/>
<linearGradient id="c18s22" href="#cmB" y1="180.2" y2="414.1"/>
<linearGradient id="c18s23" href="#cmB" y1="181.7" y2="413.2"/>
<linearGradient id="c18s24" href="#cmB" y1="183.1" y2="412.2"/>
<linearGradient id="c18s25" href="#cmB" y1="184.6" y2="411.3"/>
<linearGradient id="c18s26" href="#cmB" y1="186.1" y2="410.4"/>
<linearGradient id="c18s27" href="#cmB" y1="187.6" y2="409.4"/>
<linearGradient id="c18s28" href="#cmB" y1="189.0" y2="408.5"/>
<linearGradient id="c18s29" href="#cmB" y1="188.7" y2="403.2"/>
<linearGradient id="c18s30" href="#cmB" y1="188.4" y2="397.9"/>
<linearGradient id="c18s31" href="#cmB" y1="188.1" y2="392.6"/>
<linearGradient id="c18s32" href="#cmB" y1="187.8" y2="387.3"/>
<linearGradient id="c18s33" href="#cmB" y1="187.0" y2="382.4"/>
<linearGradient id="c18s34" href="#cmB" y1="186.2" y2="377.4"/>
<linearGradient id="c18s35" href="#cmB" y1="185.4" y2="372.5"/>
<linearGradient id="c18s36" href="#cmB" y1="184.6" y2="367.5"/>
<linearGradient id="c18s37" href="#cmB" y1="188.1" y2="370.6"/>
<linearGradient id="c18s38" href="#cmB" y1="194.5" y2="379.1"/>
<linearGradient id="c18s39" href="#cmB" y1="198.6" y2="385.3"/>
<linearGradient id="c18s40" href="#cmB" y1="200.4" y2="389.1"/>
<linearGradient id="c18s41" href="#cmB" y1="202.1" y2="392.9"/>
<linearGradient id="c18s42" href="#cmB" y1="203.0" y2="398.0"/>
<linearGradient id="c18s43" href="#cmB" y1="201.6" y2="407.0"/>
<linearGradient id="c18s44" href="#cmB" y1="200.1" y2="415.9"/>
<linearGradient id="c18s45" href="#cmB" y1="198.6" y2="424.8"/>
<linearGradient id="c18s46" href="#cmB" y1="197.7" y2="432.2"/>
<linearGradient id="c18s47" href="#cmB" y1="197.2" y2="438.1"/>
<linearGradient id="c18s48" href="#cmB" y1="196.8" y2="443.9"/>
<linearGradient id="c18s49" href="#cmB" y1="197.5" y2="447.4"/>
<linearGradient id="c18s50" href="#cmB" y1="199.2" y2="449.4"/>
<linearGradient id="c18s51" href="#cmB" y1="200.8" y2="451.4"/>
<linearGradient id="c18s52" href="#cmB" y1="202.4" y2="453.4"/>
<linearGradient id="c18s53" href="#cmB" y1="204.0" y2="455.4"/>
<linearGradient id="c18s54" href="#cmB" y1="205.6" y2="457.3"/>
<linearGradient id="c18s55" href="#cmB" y1="207.2" y2="459.3"/>
<linearGradient id="c18s56" href="#cmB" y1="208.8" y2="461.3"/>
<linearGradient id="c18s57" href="#cmB" y1="210.4" y2="463.3"/>
<linearGradient id="c18s58" href="#cmB" y1="212.0" y2="465.3"/>
<linearGradient id="c18s59" href="#cmB" y1="213.8" y2="466.9"/>
<linearGradient id="c18s60" href="#cmB" y1="215.9" y2="467.4"/>
<linearGradient id="c18s61" href="#cmB" y1="218.1" y2="468.0"/>
<linearGradient id="c18s62" href="#cmB" y1="220.3" y2="468.5"/>
<linearGradient id="c18s63" href="#cmB" y1="222.4" y2="469.1"/>
<linearGradient id="c18s64" href="#cmB" y1="224.6" y2="469.6"/>
<linearGradient id="c18s65" href="#cmB" y1="225.9" y2="469.4"/>
<linearGradient id="c18s66" href="#cmB" y1="227.3" y2="469.1"/>
<linearGradient id="c18s67" href="#cmB" y1="228.6" y2="468.9"/>
<linearGradient id="c18s68" href="#cmB" y1="230.0" y2="468.6"/>
<linearGradient id="c18s69" href="#cmB" y1="231.4" y2="468.4"/>
<linearGradient id="c18s70" href="#cmB" y1="232.5" y2="467.6"/>
<linearGradient id="c18s71" href="#cmB" y1="233.6" y2="466.7"/>
<linearGradient id="c18s72" href="#cmB" y1="234.7" y2="465.8"/>
<linearGradient id="c18s73" href="#cmB" y1="235.8" y2="464.8"/>
<linearGradient id="c18s74" href="#cmB" y1="236.9" y2="463.9"/>
<linearGradient id="c18s75" href="#cmB" y1="238.0" y2="463.0"/>
<linearGradient id="c18s76" href="#cmB" y1="239.1" y2="462.0"/>
<linearGradient id="c18s77" href="#cmB" y1="240.2" y2="461.1"/>
<linearGradient id="c18s78" href="#cmB" y1="241.3" y2="460.2"/>
<linearGradient id="c18s79" href="#cmB" y1="242.4" y2="459.3"/>
<linearGradient id="c18s80" href="#cmB" y1="243.0" y2="458.2"/>
<linearGradient id="c18s81" href="#cmB" y1="243.0" y2="457.0"/>
<linearGradient id="c18s82" href="#cmB" y1="243.0" y2="455.9"/>
<linearGradient id="c18s83" href="#cmB" y1="243.0" y2="454.7"/>
<linearGradient id="c18s84" href="#cmB" y1="243.0" y2="453.5"/>
<linearGradient id="c18s85" href="#cmB" y1="243.0" y2="452.3"/>
<linearGradient id="c18s86" href="#cmB" y1="242.8" y2="450.9"/>
<linearGradient id="c18s87" href="#cmB" y1="242.6" y2="449.5"/>
<linearGradient id="c18s88" href="#cmB" y1="242.3" y2="448.1"/>
<linearGradient id="c18s89" href="#cmB" y1="242.1" y2="446.7"/>
<linearGradient id="c18s90" href="#cmB" y1="241.9" y2="445.3"/>
<linearGradient id="c18s91" href="#cmB" y1="241.8" y2="444.6"/>
<linearGradient id="c18s92" href="#cmB" y1="241.8" y2="444.6"/>
<clipPath id="cwB"><polygon points="984.5,185.5 1251.0,231.0 1251.0,233.0 1266.0,260.0 1281.6,239.4 1295.7,265.0 1312.0,244.5 1318.7,262.4 1324.0,258.6 1336.6,262.4 1334.0,283.0 1331.5,303.0 1324.0,320.0 1313.6,345.6 1310.0,371.6 1297.0,402.0 1281.8,438.0 1274.0,460.0 1270.0,470.0 1262.4,485.6 1239.0,474.0 1234.0,475.4 1225.0,467.7 1222.7,471.5 1211.0,470.0 1208.6,468.5 1198.4,458.0 1185.6,443.0 1175.4,422.4 1170.0,404.5 1160.0,393.0 1154.4,384.0 1144.0,353.3 1135.0,341.8 1132.6,348.0 1123.6,332.8 1116.0,329.0 1105.7,331.5 1098.0,340.5 1090.4,358.4 1085.2,375.0 1066.0,388.6 1049.4,382.7 1043.0,382.7 1036.6,366.0 1026.4,343.0 1016.0,320.0 1013.6,298.0 1008.5,270.0 1003.4,244.5 995.7,211.0"/></clipPath>
<linearGradient id="r19" gradientUnits="userSpaceOnUse" x1="0" x2="0" y1="238.0" y2="306.0"><stop offset="0" stop-color="#e0f400"/><stop offset="0.28" stop-color="#90e000"/><stop offset="0.62" stop-color="#38c400"/><stop offset="1" stop-color="#10b000" stop-opacity="0"/></linearGradient>
</defs>
<rect width="1589" height="625" fill="#fff"/>
<g id="panelA">
<g stroke="#d0d0d0" stroke-width="1.3" fill="none">
<polyline points="56.1,117.0 273.1,8.4 647.9,53.0"/>
<polyline points="60.1,166.5 274.5,51.7 644.8,97.3"/>
<polyline points="63.9,213.5 275.8,92.8 641.8,141.6"/>
<polyline points="67.6,260.5 277.1,133.9 638.8,184.5"/>
<polyline points="71.3,306.5 278.3,174.2 635.9,227.0"/>
<polyline points="75.0,351.5 279.6,213.6 633.0,269.0"/>
<polyline points="78.6,396.0 280.8,252.5 630.1,311.0"/>
<polyline points="82.1,440.0 282.0,291.0 627.3,352.5"/>
<polyline points="64.7,111.6 92.9,469.8"/>
<polyline points="96.8,95.1 122.2,447.0"/>
<polyline points="126.7,79.8 149.5,425.6"/>
<polyline points="156.5,64.6 176.7,404.5"/>
<polyline points="183.6,50.7 201.4,385.2"/>
<polyline points="209.6,37.4 225.2,366.6"/>
<polyline points="235.9,24.0 249.1,347.9"/>
<polyline points="259.5,11.9 270.7,331.1"/>
<polyline points="341.2,13.4 342.0,332.6"/>
<polyline points="421.9,23.3 417.7,346.9"/>
<polyline points="504.8,33.4 493.6,361.2"/>
<polyline points="591.0,44.0 573.0,376.2"/>
</g>
<line x1="273.0" y1="5.0" x2="283.0" y2="321.5" stroke="#000" stroke-width="2.4" />
<polygon points="85.0,476.0 283.0,321.5 625.0,386.0 478.5,571.5" fill="#ff2d00" />
<g clip-path="url(#floorA)"><g filter="url(#wob)">
<g filter="url(#bl2)">
<polygon points="145.0,464.0 152.0,453.0 162.0,446.0 180.0,441.0 203.0,442.0 226.0,445.0 252.0,447.0 270.0,444.0 280.0,440.0 285.0,434.0 290.0,428.0 308.0,424.0 322.0,415.0 331.0,407.0 342.0,404.0 352.0,409.0 365.0,412.0 380.0,406.0 385.0,392.0 375.0,385.0 360.0,380.0 345.0,375.0 325.0,368.0 308.0,363.0 290.0,359.0 276.0,356.0 276.0,340.0 290.0,336.0 340.0,335.0 373.0,340.0 391.0,353.0 417.0,362.0 447.0,371.0 473.0,380.0 494.0,387.0 519.0,394.0 535.0,402.0 555.0,413.0 568.0,421.0 574.0,430.0 566.0,438.0 545.0,440.0 519.0,435.0 504.0,436.0 499.0,443.0 483.0,446.0 463.0,447.0 442.0,441.0 423.0,437.0 400.0,438.0 388.0,444.0 377.0,455.0 365.0,461.0 351.0,458.0 325.0,455.0 308.0,458.0 302.0,464.0 298.0,472.0 290.0,477.0 270.0,483.0 239.0,486.0 203.0,488.0 183.0,482.0 154.0,477.0" fill="#ff9a00" stroke="#ff9a00" stroke-width="17" stroke-linejoin="round"/>
<polygon points="340.0,383.0 352.0,381.0 364.0,386.0 376.0,393.0 375.0,404.0 362.0,407.0 349.0,404.0 339.0,396.0" fill="#f4f000" stroke="#ff9a00" stroke-width="4" stroke-linejoin="round"/>
</g>
<g filter="url(#bl1)">
<polygon points="145.0,464.0 152.0,453.0 162.0,446.0 180.0,441.0 203.0,442.0 226.0,445.0 252.0,447.0 270.0,444.0 280.0,440.0 285.0,434.0 290.0,428.0 308.0,424.0 322.0,415.0 331.0,407.0 342.0,404.0 352.0,409.0 365.0,412.0 380.0,406.0 385.0,392.0 375.0,385.0 360.0,380.0 345.0,375.0 325.0,368.0 308.0,363.0 290.0,359.0 276.0,356.0 276.0,340.0 290.0,336.0 340.0,335.0 373.0,340.0 391.0,353.0 417.0,362.0 447.0,371.0 473.0,380.0 494.0,387.0 519.0,394.0 535.0,402.0 555.0,413.0 568.0,421.0 574.0,430.0 566.0,438.0 545.0,440.0 519.0,435.0 504.0,436.0 499.0,443.0 483.0,446.0 463.0,447.0 442.0,441.0 423.0,437.0 400.0,438.0 388.0,444.0 377.0,455.0 365.0,461.0 351.0,458.0 325.0,455.0 308.0,458.0 302.0,464.0 298.0,472.0 290.0,477.0 270.0,483.0 239.0,486.0 203.0,488.0 183.0,482.0 154.0,477.0" fill="#ffff00" stroke="#ffff00" stroke-width="9" stroke-linejoin="round"/>
<polygon points="145.0,464.0 152.0,453.0 162.0,446.0 180.0,441.0 203.0,442.0 226.0,445.0 252.0,447.0 270.0,444.0 280.0,440.0 285.0,434.0 290.0,428.0 308.0,424.0 322.0,415.0 331.0,407.0 342.0,404.0 352.0,409.0 365.0,412.0 380.0,406.0 385.0,392.0 375.0,385.0 360.0,380.0 345.0,375.0 325.0,368.0 308.0,363.0 290.0,359.0 276.0,356.0 276.0,340.0 290.0,336.0 340.0,335.0 373.0,340.0 391.0,353.0 417.0,362.0 447.0,371.0 473.0,380.0 494.0,387.0 519.0,394.0 535.0,402.0 555.0,413.0 568.0,421.0 574.0,430.0 566.0,438.0 545.0,440.0 519.0,435.0 504.0,436.0 499.0,443.0 483.0,446.0 463.0,447.0 442.0,441.0 423.0,437.0 400.0,438.0 388.0,444.0 377.0,455.0 365.0,461.0 351.0,458.0 325.0,455.0 308.0,458.0 302.0,464.0 298.0,472.0 290.0,477.0 270.0,483.0 239.0,486.0 203.0,488.0 183.0,482.0 154.0,477.0" fill="#10c400" stroke="#70e000" stroke-width="2.5" stroke-linejoin="round"/>
<polygon points="354.0,401.0 361.0,401.0 361.0,405.0 354.0,405.0" fill="#ffb400" />
<polygon points="292.0,395.0 298.0,395.0 298.0,399.0 292.0,399.0" fill="#ffb000" />
</g>
<g filter="url(#bl3)">
<polygon points="163.0,462.0 190.0,458.0 196.0,478.0 172.0,475.0" fill="#008a50" opacity="0.75"/>
<polygon points="350.0,414.0 385.0,402.0 400.0,424.0 380.0,436.0 366.0,442.0 362.0,434.0 345.0,428.0" fill="#008a50" opacity="0.75"/>
</g>
<g filter="url(#bl2)">
<polygon points="280.0,339.0 300.0,337.5 345.0,338.0 373.0,343.0 392.0,355.0 418.0,364.0 448.0,373.0 474.0,382.0 495.0,389.0 520.0,396.0 538.0,404.0 555.0,416.0 566.0,428.0 550.0,434.0 519.0,429.0 500.0,427.0 493.0,435.0 484.0,442.0 468.0,443.5 442.0,436.5 424.0,431.0 413.0,422.0 403.0,408.0 396.0,398.0 386.0,389.0 374.0,380.0 356.0,369.0 340.0,360.0 310.0,357.0 280.0,354.0" fill="#0000f0" stroke="#008060" stroke-width="6.5" stroke-linejoin="round"/>
<polygon points="280.0,339.0 300.0,337.5 345.0,338.0 373.0,343.0 392.0,355.0 418.0,364.0 448.0,373.0 474.0,382.0 495.0,389.0 520.0,396.0 538.0,404.0 555.0,416.0 566.0,428.0 550.0,434.0 519.0,429.0 500.0,427.0 493.0,435.0 484.0,442.0 468.0,443.5 442.0,436.5 424.0,431.0 413.0,422.0 403.0,408.0 396.0,398.0 386.0,389.0 374.0,380.0 356.0,369.0 340.0,360.0 310.0,357.0 280.0,354.0" fill="#0000f0" stroke="#0000f0" stroke-width="3.5" stroke-linejoin="round"/>
<polygon points="308.0,438.0 320.0,434.0 345.0,435.0 360.0,440.0 362.0,446.0 345.0,449.0 320.0,447.0 310.0,444.0" fill="#0000f0" stroke="#008060" stroke-width="6.5" stroke-linejoin="round"/>
<polygon points="308.0,438.0 320.0,434.0 345.0,435.0 360.0,440.0 362.0,446.0 345.0,449.0 320.0,447.0 310.0,444.0" fill="#0000f0" stroke="#0000f0" stroke-width="3.5" stroke-linejoin="round"/>
<polygon points="194.0,464.0 208.0,458.0 234.0,459.0 265.0,462.0 278.0,469.0 276.0,478.0 255.0,482.0 224.0,482.0 201.0,478.0" fill="#0000f0" stroke="#008060" stroke-width="6.5" stroke-linejoin="round"/>
<polygon points="194.0,464.0 208.0,458.0 234.0,459.0 265.0,462.0 278.0,469.0 276.0,478.0 255.0,482.0 224.0,482.0 201.0,478.0" fill="#0000f0" stroke="#0000f0" stroke-width="3.5" stroke-linejoin="round"/>
</g>
<g filter="url(#bl3)">
<polygon points="286.0,343.0 300.0,341.0 340.0,343.0 342.0,349.0 320.0,351.0 290.0,350.0" fill="#0a0088" />
<polygon points="420.0,378.0 450.0,386.0 480.0,395.0 510.0,404.0 535.0,414.0 520.0,418.0 500.0,414.0 470.0,407.0 440.0,398.0 415.0,386.0" fill="#0a0088" />
<polygon points="215.0,466.0 260.0,468.0 262.0,474.0 220.0,474.0" fill="#0a0088" />
</g>
</g></g>
<polyline points="85.0,476.0 283.0,321.5 625.0,386.0" fill="none" stroke="#000" stroke-width="1.8"/>
<polygon points="375.2,288.0 382.4,300.3 388.9,296.7 400.4,309.0 405.4,302.5 418.4,318.3 412.6,303.2 404.0,290.2 394.0,284.5 389.6,288.8" fill="#0000e6" />
<polygon points="296.0,293.8 306.0,303.0 293.8,299.6" fill="#0a0a90" />
<g clip-path="url(#c1)"><g filter="url(#hbl)">
<rect x="287.0" y="92.0" width="3.7" height="248.0" fill="url(#c1s0)"/>
<rect x="290.0" y="92.0" width="3.7" height="248.0" fill="url(#c1s1)"/>
<rect x="293.0" y="92.0" width="3.7" height="248.0" fill="url(#c1s2)"/>
<rect x="296.0" y="92.0" width="3.7" height="248.0" fill="url(#c1s3)"/>
<rect x="299.0" y="92.0" width="3.7" height="248.0" fill="url(#c1s4)"/>
<rect x="302.0" y="92.0" width="3.7" height="248.0" fill="url(#c1s5)"/>
<rect x="305.0" y="92.0" width="3.7" height="248.0" fill="url(#c1s6)"/>
<rect x="308.0" y="92.0" width="3.7" height="248.0" fill="url(#c1s7)"/>
<rect x="311.0" y="92.0" width="3.7" height="248.0" fill="url(#c1s8)"/>
<rect x="314.0" y="92.0" width="3.7" height="248.0" fill="url(#c1s9)"/>
<rect x="317.0" y="92.0" width="3.7" height="248.0" fill="url(#c1s10)"/>
<rect x="320.0" y="92.0" width="3.7" height="248.0" fill="url(#c1s11)"/>
<rect x="323.0" y="92.0" width="3.7" height="248.0" fill="url(#c1s12)"/>
<rect x="326.0" y="92.0" width="3.7" height="248.0" fill="url(#c1s13)"/>
<rect x="329.0" y="92.0" width="3.7" height="248.0" fill="url(#c1s14)"/>
<rect x="332.0" y="92.0" width="3.7" height="248.0" fill="url(#c1s15)"/>
<rect x="335.0" y="92.0" width="3.7" height="248.0" fill="url(#c1s16)"/>
<rect x="338.0" y="92.0" width="3.7" height="248.0" fill="url(#c1s17)"/>
<rect x="341.0" y="92.0" width="3.7" height="248.0" fill="url(#c1s18)"/>
<rect x="344.0" y="92.0" width="3.7" height="248.0" fill="url(#c1s19)"/>
<rect x="347.0" y="92.0" width="3.7" height="248.0" fill="url(#c1s20)"/>
<rect x="350.0" y="92.0" width="3.7" height="248.0" fill="url(#c1s21)"/>
<rect x="353.0" y="92.0" width="3.7" height="248.0" fill="url(#c1s22)"/>
<rect x="356.0" y="92.0" width="3.7" height="248.0" fill="url(#c1s23)"/>
<rect x="359.0" y="92.0" width="3.7" height="248.0" fill="url(#c1s24)"/>
<rect x="362.0" y="92.0" width="3.7" height="248.0" fill="url(#c1s25)"/>
<rect x="365.0" y="92.0" width="3.7" height="248.0" fill="url(#c1s26)"/>
<rect x="368.0" y="92.0" width="3.7" height="248.0" fill="url(#c1s27)"/>
<rect x="371.0" y="92.0" width="3.7" height="248.0" fill="url(#c1s28)"/>
<rect x="374.0" y="92.0" width="3.7" height="248.0" fill="url(#c1s29)"/>
<rect x="377.0" y="92.0" width="3.7" height="248.0" fill="url(#c1s30)"/>
<rect x="380.0" y="92.0" width="3.7" height="248.0" fill="url(#c1s31)"/>
<rect x="383.0" y="92.0" width="3.7" height="248.0" fill="url(#c1s32)"/>
<rect x="386.0" y="92.0" width="3.7" height="248.0" fill="url(#c1s33)"/>
<rect x="389.0" y="92.0" width="3.7" height="248.0" fill="url(#c1s34)"/>
<rect x="392.0" y="92.0" width="3.7" height="248.0" fill="url(#c1s35)"/>
<rect x="395.0" y="92.0" width="3.7" height="248.0" fill="url(#c1s36)"/>
<rect x="398.0" y="92.0" width="3.7" height="248.0" fill="url(#c1s37)"/>
<rect x="401.0" y="92.0" width="3.7" height="248.0" fill="url(#c1s38)"/>
<rect x="404.0" y="92.0" width="3.7" height="248.0" fill="url(#c1s39)"/>
<rect x="407.0" y="92.0" width="3.7" height="248.0" fill="url(#c1s40)"/>
<rect x="410.0" y="92.0" width="3.7" height="248.0" fill="url(#c1s41)"/>
<rect x="413.0" y="92.0" width="3.7" height="248.0" fill="url(#c1s42)"/>
<rect x="416.0" y="92.0" width="3.7" height="248.0" fill="url(#c1s43)"/>
<rect x="419.0" y="92.0" width="3.7" height="248.0" fill="url(#c1s44)"/>
<rect x="422.0" y="92.0" width="3.7" height="248.0" fill="url(#c1s45)"/>
<rect x="425.0" y="92.0" width="3.7" height="248.0" fill="url(#c1s46)"/>
<rect x="428.0" y="92.0" width="3.7" height="248.0" fill="url(#c1s47)"/>
<rect x="431.0" y="92.0" width="3.7" height="248.0" fill="url(#c1s48)"/>
<rect x="434.0" y="92.0" width="3.7" height="248.0" fill="url(#c1s49)"/>
<rect x="437.0" y="92.0" width="3.7" height="248.0" fill="url(#c1s50)"/>
<rect x="440.0" y="92.0" width="3.7" height="248.0" fill="url(#c1s51)"/>
<rect x="443.0" y="92.0" width="3.7" height="248.0" fill="url(#c1s52)"/>
<rect x="446.0" y="92.0" width="3.7" height="248.0" fill="url(#c1s53)"/>
<rect x="449.0" y="92.0" width="3.7" height="248.0" fill="url(#c1s54)"/>
<rect x="452.0" y="92.0" width="3.7" height="248.0" fill="url(#c1s55)"/>
<rect x="455.0" y="92.0" width="3.7" height="248.0" fill="url(#c1s56)"/>
<rect x="458.0" y="92.0" width="3.7" height="248.0" fill="url(#c1s57)"/>
<rect x="461.0" y="92.0" width="3.7" height="248.0" fill="url(#c1s58)"/>
<rect x="464.0" y="92.0" width="3.7" height="248.0" fill="url(#c1s59)"/>
<rect x="467.0" y="92.0" width="3.7" height="248.0" fill="url(#c1s60)"/>
<rect x="470.0" y="92.0" width="3.7" height="248.0" fill="url(#c1s61)"/>
<rect x="473.0" y="92.0" width="3.7" height="248.0" fill="url(#c1s62)"/>
<rect x="476.0" y="92.0" width="3.7" height="248.0" fill="url(#c1s63)"/>
<rect x="479.0" y="92.0" width="3.7" height="248.0" fill="url(#c1s64)"/>
<rect x="482.0" y="92.0" width="3.7" height="248.0" fill="url(#c1s65)"/>
<rect x="485.0" y="92.0" width="3.7" height="248.0" fill="url(#c1s66)"/>
<rect x="488.0" y="92.0" width="3.7" height="248.0" fill="url(#c1s67)"/>
<rect x="491.0" y="92.0" width="3.7" height="248.0" fill="url(#c1s68)"/>
<rect x="494.0" y="92.0" width="3.7" height="248.0" fill="url(#c1s69)"/>
<rect x="497.0" y="92.0" width="3.7" height="248.0" fill="url(#c1s70)"/>
<rect x="500.0" y="92.0" width="3.7" height="248.0" fill="url(#c1s71)"/>
<rect x="503.0" y="92.0" width="3.7" height="248.0" fill="url(#c1s72)"/>
<rect x="506.0" y="92.0" width="3.7" height="248.0" fill="url(#c1s73)"/>
<rect x="509.0" y="92.0" width="3.7" height="248.0" fill="url(#c1s74)"/>
<rect x="512.0" y="92.0" width="3.7" height="248.0" fill="url(#c1s75)"/>
<rect x="515.0" y="92.0" width="3.7" height="248.0" fill="url(#c1s76)"/>
<rect x="518.0" y="92.0" width="3.7" height="248.0" fill="url(#c1s77)"/>
<rect x="521.0" y="92.0" width="3.7" height="248.0" fill="url(#c1s78)"/>
<rect x="524.0" y="92.0" width="3.7" height="248.0" fill="url(#c1s79)"/>
<rect x="527.0" y="92.0" width="3.7" height="248.0" fill="url(#c1s80)"/>
<rect x="530.0" y="92.0" width="3.7" height="248.0" fill="url(#c1s81)"/>
<rect x="533.0" y="92.0" width="3.7" height="248.0" fill="url(#c1s82)"/>
<rect x="536.0" y="92.0" width="3.7" height="248.0" fill="url(#c1s83)"/>
<rect x="539.0" y="92.0" width="3.7" height="248.0" fill="url(#c1s84)"/>
<rect x="542.0" y="92.0" width="3.7" height="248.0" fill="url(#c1s85)"/>
<rect x="545.0" y="92.0" width="3.7" height="248.0" fill="url(#c1s86)"/>
<rect x="548.0" y="92.0" width="3.7" height="248.0" fill="url(#c1s87)"/>
<rect x="551.0" y="92.0" width="3.7" height="248.0" fill="url(#c1s88)"/>
<rect x="554.0" y="92.0" width="3.7" height="248.0" fill="url(#c1s89)"/>
<rect x="557.0" y="92.0" width="3.7" height="248.0" fill="url(#c1s90)"/>
<rect x="560.0" y="92.0" width="3.7" height="248.0" fill="url(#c1s91)"/>
<rect x="563.0" y="92.0" width="3.7" height="248.0" fill="url(#c1s92)"/>
<rect x="566.0" y="92.0" width="3.7" height="248.0" fill="url(#c1s93)"/>
<rect x="569.0" y="92.0" width="3.7" height="248.0" fill="url(#c1s94)"/>
<rect x="572.0" y="92.0" width="3.7" height="248.0" fill="url(#c1s95)"/>
<rect x="575.0" y="92.0" width="3.7" height="248.0" fill="url(#c1s96)"/>
<rect x="578.0" y="92.0" width="3.7" height="248.0" fill="url(#c1s97)"/>
<rect x="581.0" y="92.0" width="3.7" height="248.0" fill="url(#c1s98)"/>
<rect x="584.0" y="92.0" width="3.7" height="248.0" fill="url(#c1s99)"/>
<rect x="587.0" y="92.0" width="3.7" height="248.0" fill="url(#c1s100)"/>
<rect x="590.0" y="92.0" width="3.7" height="248.0" fill="url(#c1s101)"/>
<rect x="593.0" y="92.0" width="3.7" height="248.0" fill="url(#c1s102)"/>
<rect x="596.0" y="92.0" width="3.7" height="248.0" fill="url(#c1s103)"/>
<rect x="599.0" y="92.0" width="3.7" height="248.0" fill="url(#c1s104)"/>
<rect x="602.0" y="92.0" width="3.7" height="248.0" fill="url(#c1s105)"/>
<rect x="605.0" y="92.0" width="3.7" height="248.0" fill="url(#c1s106)"/>
<rect x="608.0" y="92.0" width="3.7" height="248.0" fill="url(#c1s107)"/>
<rect x="611.0" y="92.0" width="3.7" height="248.0" fill="url(#c1s108)"/>
<rect x="614.0" y="92.0" width="3.7" height="248.0" fill="url(#c1s109)"/>
<rect x="617.0" y="92.0" width="3.7" height="248.0" fill="url(#c1s110)"/>
<rect x="620.0" y="92.0" width="3.7" height="248.0" fill="url(#c1s111)"/>
<rect x="623.0" y="92.0" width="3.7" height="248.0" fill="url(#c1s112)"/>
</g></g>
<g clip-path="url(#cwR)" filter="url(#bl1)" opacity="0.85">
<polygon points="407.8,209.0 390.0,282.0 432.0,300.0" fill="url(#r2)"/>
<polygon points="523.0,204.0 488.0,305.0 558.0,308.0" fill="url(#r3)"/>
<polygon points="311.8,232.0 296.0,305.0 360.0,305.0" fill="url(#r4)"/>
</g>
<g clip-path="url(#c5)"><g filter="url(#hbl)">
<rect x="44.0" y="131.6" width="6.7" height="259.0" fill="url(#c5s0)"/>
<rect x="50.0" y="131.6" width="6.7" height="259.0" fill="url(#c5s1)"/>
<rect x="56.0" y="131.6" width="6.7" height="259.0" fill="url(#c5s2)"/>
<rect x="62.0" y="131.6" width="6.7" height="259.0" fill="url(#c5s3)"/>
<rect x="68.0" y="131.6" width="6.7" height="259.0" fill="url(#c5s4)"/>
<rect x="74.0" y="131.6" width="6.7" height="259.0" fill="url(#c5s5)"/>
<rect x="80.0" y="131.6" width="6.7" height="259.0" fill="url(#c5s6)"/>
<rect x="86.0" y="131.6" width="6.7" height="259.0" fill="url(#c5s7)"/>
<rect x="92.0" y="131.6" width="6.7" height="259.0" fill="url(#c5s8)"/>
<rect x="98.0" y="131.6" width="6.7" height="259.0" fill="url(#c5s9)"/>
<rect x="104.0" y="131.6" width="6.7" height="259.0" fill="url(#c5s10)"/>
<rect x="110.0" y="131.6" width="6.7" height="259.0" fill="url(#c5s11)"/>
<rect x="116.0" y="131.6" width="6.7" height="259.0" fill="url(#c5s12)"/>
<rect x="122.0" y="131.6" width="6.7" height="259.0" fill="url(#c5s13)"/>
<rect x="128.0" y="131.6" width="6.7" height="259.0" fill="url(#c5s14)"/>
<rect x="134.0" y="131.6" width="6.7" height="259.0" fill="url(#c5s15)"/>
<rect x="140.0" y="131.6" width="6.7" height="259.0" fill="url(#c5s16)"/>
<rect x="146.0" y="131.6" width="6.7" height="259.0" fill="url(#c5s17)"/>
<rect x="152.0" y="131.6" width="6.7" height="259.0" fill="url(#c5s18)"/>
<rect x="158.0" y="131.6" width="6.7" height="259.0" fill="url(#c5s19)"/>
<rect x="164.0" y="131.6" width="6.7" height="259.0" fill="url(#c5s20)"/>
<rect x="170.0" y="131.6" width="6.7" height="259.0" fill="url(#c5s21)"/>
<rect x="176.0" y="131.6" width="6.7" height="259.0" fill="url(#c5s22)"/>
<rect x="182.0" y="131.6" width="6.7" height="259.0" fill="url(#c5s23)"/>
<rect x="188.0" y="131.6" width="6.7" height="259.0" fill="url(#c5s24)"/>
<rect x="194.0" y="131.6" width="6.7" height="259.0" fill="url(#c5s25)"/>
<rect x="200.0" y="131.6" width="6.7" height="259.0" fill="url(#c5s26)"/>
<rect x="206.0" y="131.6" width="6.7" height="259.0" fill="url(#c5s27)"/>
<rect x="212.0" y="131.6" width="6.7" height="259.0" fill="url(#c5s28)"/>
<rect x="218.0" y="131.6" width="6.7" height="259.0" fill="url(#c5s29)"/>
<rect x="224.0" y="131.6" width="6.7" height="259.0" fill="url(#c5s30)"/>
<rect x="230.0" y="131.6" width="6.7" height="259.0" fill="url(#c5s31)"/>
<rect x="236.0" y="131.6" width="6.7" height="259.0" fill="url(#c5s32)"/>
<rect x="242.0" y="131.6" width="6.7" height="259.0" fill="url(#c5s33)"/>
<rect x="248.0" y="131.6" width="6.7" height="259.0" fill="url(#c5s34)"/>
<rect x="254.0" y="131.6" width="6.7" height="259.0" fill="url(#c5s35)"/>
<rect x="260.0" y="131.6" width="6.7" height="259.0" fill="url(#c5s36)"/>
<rect x="266.0" y="131.6" width="6.7" height="259.0" fill="url(#c5s37)"/>
<rect x="272.0" y="131.6" width="6.7" height="259.0" fill="url(#c5s38)"/>
<rect x="278.0" y="131.6" width="6.7" height="259.0" fill="url(#c5s39)"/>
<rect x="284.0" y="131.6" width="6.7" height="259.0" fill="url(#c5s40)"/>
<rect x="290.0" y="131.6" width="6.7" height="259.0" fill="url(#c5s41)"/>
<rect x="296.0" y="131.6" width="6.7" height="259.0" fill="url(#c5s42)"/>
<rect x="302.0" y="131.6" width="6.7" height="259.0" fill="url(#c5s43)"/>
<rect x="308.0" y="131.6" width="6.7" height="259.0" fill="url(#c5s44)"/>
<rect x="314.0" y="131.6" width="6.7" height="259.0" fill="url(#c5s45)"/>
<rect x="320.0" y="131.6" width="6.7" height="259.0" fill="url(#c5s46)"/>
<rect x="326.0" y="131.6" width="6.7" height="259.0" fill="url(#c5s47)"/>
</g></g>
<polygon points="157.0,319.0 165.0,332.0 181.5,332.0 174.0,319.0" fill="#1f7f95" />
<g clip-path="url(#c6)"><g filter="url(#hbl)">
<rect x="44.0" y="20.0" width="6.7" height="187.0" fill="url(#c6s0)"/>
<rect x="50.0" y="20.0" width="6.7" height="187.0" fill="url(#c6s1)"/>
<rect x="56.0" y="20.0" width="6.7" height="187.0" fill="url(#c6s2)"/>
<rect x="62.0" y="20.0" width="6.7" height="187.0" fill="url(#c6s3)"/>
<rect x="68.0" y="20.0" width="6.7" height="187.0" fill="url(#c6s4)"/>
<rect x="74.0" y="20.0" width="6.7" height="187.0" fill="url(#c6s5)"/>
<rect x="80.0" y="20.0" width="6.7" height="187.0" fill="url(#c6s6)"/>
<rect x="86.0" y="20.0" width="6.7" height="187.0" fill="url(#c6s7)"/>
<rect x="92.0" y="20.0" width="6.7" height="187.0" fill="url(#c6s8)"/>
<rect x="98.0" y="20.0" width="6.7" height="187.0" fill="url(#c6s9)"/>
<rect x="104.0" y="20.0" width="6.7" height="187.0" fill="url(#c6s10)"/>
<rect x="110.0" y="20.0" width="6.7" height="187.0" fill="url(#c6s11)"/>
<rect x="116.0" y="20.0" width="6.7" height="187.0" fill="url(#c6s12)"/>
<rect x="122.0" y="20.0" width="6.7" height="187.0" fill="url(#c6s13)"/>
<rect x="128.0" y="20.0" width="6.7" height="187.0" fill="url(#c6s14)"/>
<rect x="134.0" y="20.0" width="6.7" height="187.0" fill="url(#c6s15)"/>
<rect x="140.0" y="20.0" width="6.7" height="187.0" fill="url(#c6s16)"/>
<rect x="146.0" y="20.0" width="6.7" height="187.0" fill="url(#c6s17)"/>
<rect x="152.0" y="20.0" width="6.7" height="187.0" fill="url(#c6s18)"/>
<rect x="158.0" y="20.0" width="6.7" height="187.0" fill="url(#c6s19)"/>
<rect x="164.0" y="20.0" width="6.7" height="187.0" fill="url(#c6s20)"/>
<rect x="170.0" y="20.0" width="6.7" height="187.0" fill="url(#c6s21)"/>
<rect x="176.0" y="20.0" width="6.7" height="187.0" fill="url(#c6s22)"/>
<rect x="182.0" y="20.0" width="6.7" height="187.0" fill="url(#c6s23)"/>
<rect x="188.0" y="20.0" width="6.7" height="187.0" fill="url(#c6s24)"/>
<rect x="194.0" y="20.0" width="6.7" height="187.0" fill="url(#c6s25)"/>
<rect x="200.0" y="20.0" width="6.7" height="187.0" fill="url(#c6s26)"/>
<rect x="206.0" y="20.0" width="6.7" height="187.0" fill="url(#c6s27)"/>
<rect x="212.0" y="20.0" width="6.7" height="187.0" fill="url(#c6s28)"/>
<rect x="218.0" y="20.0" width="6.7" height="187.0" fill="url(#c6s29)"/>
<rect x="224.0" y="20.0" width="6.7" height="187.0" fill="url(#c6s30)"/>
<rect x="230.0" y="20.0" width="6.7" height="187.0" fill="url(#c6s31)"/>
<rect x="236.0" y="20.0" width="6.7" height="187.0" fill="url(#c6s32)"/>
<rect x="242.0" y="20.0" width="6.7" height="187.0" fill="url(#c6s33)"/>
<rect x="248.0" y="20.0" width="6.7" height="187.0" fill="url(#c6s34)"/>
<rect x="254.0" y="20.0" width="6.7" height="187.0" fill="url(#c6s35)"/>
<rect x="260.0" y="20.0" width="6.7" height="187.0" fill="url(#c6s36)"/>
<rect x="266.0" y="20.0" width="6.7" height="187.0" fill="url(#c6s37)"/>
<rect x="272.0" y="20.0" width="6.7" height="187.0" fill="url(#c6s38)"/>
<rect x="278.0" y="20.0" width="6.7" height="187.0" fill="url(#c6s39)"/>
<rect x="284.0" y="20.0" width="6.7" height="187.0" fill="url(#c6s40)"/>
<rect x="290.0" y="20.0" width="6.7" height="187.0" fill="url(#c6s41)"/>
<rect x="296.0" y="20.0" width="6.7" height="187.0" fill="url(#c6s42)"/>
<rect x="302.0" y="20.0" width="6.7" height="187.0" fill="url(#c6s43)"/>
<rect x="308.0" y="20.0" width="6.7" height="187.0" fill="url(#c6s44)"/>
<rect x="314.0" y="20.0" width="6.7" height="187.0" fill="url(#c6s45)"/>
<rect x="320.0" y="20.0" width="6.7" height="187.0" fill="url(#c6s46)"/>
<rect x="326.0" y="20.0" width="6.7" height="187.0" fill="url(#c6s47)"/>
<rect x="332.0" y="20.0" width="6.7" height="187.0" fill="url(#c6s48)"/>
<rect x="338.0" y="20.0" width="6.7" height="187.0" fill="url(#c6s49)"/>
<rect x="344.0" y="20.0" width="6.7" height="187.0" fill="url(#c6s50)"/>
<rect x="350.0" y="20.0" width="6.7" height="187.0" fill="url(#c6s51)"/>
<rect x="356.0" y="20.0" width="6.7" height="187.0" fill="url(#c6s52)"/>
</g></g>
<g clip-path="url(#c7)"><g filter="url(#hbl)">
<rect x="334.0" y="30.2" width="3.7" height="103.8" fill="url(#c7s0)"/>
<rect x="337.0" y="30.2" width="3.7" height="103.8" fill="url(#c7s1)"/>
<rect x="340.0" y="30.2" width="3.7" height="103.8" fill="url(#c7s2)"/>
<rect x="343.0" y="30.2" width="3.7" height="103.8" fill="url(#c7s3)"/>
<rect x="346.0" y="30.2" width="3.7" height="103.8" fill="url(#c7s4)"/>
<rect x="349.0" y="30.2" width="3.7" height="103.8" fill="url(#c7s5)"/>
<rect x="352.0" y="30.2" width="3.7" height="103.8" fill="url(#c7s6)"/>
<rect x="355.0" y="30.2" width="3.7" height="103.8" fill="url(#c7s7)"/>
<rect x="358.0" y="30.2" width="3.7" height="103.8" fill="url(#c7s8)"/>
<rect x="361.0" y="30.2" width="3.7" height="103.8" fill="url(#c7s9)"/>
<rect x="364.0" y="30.2" width="3.7" height="103.8" fill="url(#c7s10)"/>
<rect x="367.0" y="30.2" width="3.7" height="103.8" fill="url(#c7s11)"/>
<rect x="370.0" y="30.2" width="3.7" height="103.8" fill="url(#c7s12)"/>
<rect x="373.0" y="30.2" width="3.7" height="103.8" fill="url(#c7s13)"/>
<rect x="376.0" y="30.2" width="3.7" height="103.8" fill="url(#c7s14)"/>
<rect x="379.0" y="30.2" width="3.7" height="103.8" fill="url(#c7s15)"/>
<rect x="382.0" y="30.2" width="3.7" height="103.8" fill="url(#c7s16)"/>
<rect x="385.0" y="30.2" width="3.7" height="103.8" fill="url(#c7s17)"/>
<rect x="388.0" y="30.2" width="3.7" height="103.8" fill="url(#c7s18)"/>
<rect x="391.0" y="30.2" width="3.7" height="103.8" fill="url(#c7s19)"/>
<rect x="394.0" y="30.2" width="3.7" height="103.8" fill="url(#c7s20)"/>
<rect x="397.0" y="30.2" width="3.7" height="103.8" fill="url(#c7s21)"/>
<rect x="400.0" y="30.2" width="3.7" height="103.8" fill="url(#c7s22)"/>
<rect x="403.0" y="30.2" width="3.7" height="103.8" fill="url(#c7s23)"/>
<rect x="406.0" y="30.2" width="3.7" height="103.8" fill="url(#c7s24)"/>
<rect x="409.0" y="30.2" width="3.7" height="103.8" fill="url(#c7s25)"/>
<rect x="412.0" y="30.2" width="3.7" height="103.8" fill="url(#c7s26)"/>
<rect x="415.0" y="30.2" width="3.7" height="103.8" fill="url(#c7s27)"/>
<rect x="418.0" y="30.2" width="3.7" height="103.8" fill="url(#c7s28)"/>
<rect x="421.0" y="30.2" width="3.7" height="103.8" fill="url(#c7s29)"/>
<rect x="424.0" y="30.2" width="3.7" height="103.8" fill="url(#c7s30)"/>
<rect x="427.0" y="30.2" width="3.7" height="103.8" fill="url(#c7s31)"/>
<rect x="430.0" y="30.2" width="3.7" height="103.8" fill="url(#c7s32)"/>
<rect x="433.0" y="30.2" width="3.7" height="103.8" fill="url(#c7s33)"/>
<rect x="436.0" y="30.2" width="3.7" height="103.8" fill="url(#c7s34)"/>
<rect x="439.0" y="30.2" width="3.7" height="103.8" fill="url(#c7s35)"/>
<rect x="442.0" y="30.2" width="3.7" height="103.8" fill="url(#c7s36)"/>
<rect x="445.0" y="30.2" width="3.7" height="103.8" fill="url(#c7s37)"/>
<rect x="448.0" y="30.2" width="3.7" height="103.8" fill="url(#c7s38)"/>
<rect x="451.0" y="30.2" width="3.7" height="103.8" fill="url(#c7s39)"/>
<rect x="454.0" y="30.2" width="3.7" height="103.8" fill="url(#c7s40)"/>
<rect x="457.0" y="30.2" width="3.7" height="103.8" fill="url(#c7s41)"/>
<rect x="460.0" y="30.2" width="3.7" height="103.8" fill="url(#c7s42)"/>
<rect x="463.0" y="30.2" width="3.7" height="103.8" fill="url(#c7s43)"/>
<rect x="466.0" y="30.2" width="3.7" height="103.8" fill="url(#c7s44)"/>
<rect x="469.0" y="30.2" width="3.7" height="103.8" fill="url(#c7s45)"/>
<rect x="472.0" y="30.2" width="3.7" height="103.8" fill="url(#c7s46)"/>
<rect x="475.0" y="30.2" width="3.7" height="103.8" fill="url(#c7s47)"/>
<rect x="478.0" y="30.2" width="3.7" height="103.8" fill="url(#c7s48)"/>
<rect x="481.0" y="30.2" width="3.7" height="103.8" fill="url(#c7s49)"/>
<rect x="484.0" y="30.2" width="3.7" height="103.8" fill="url(#c7s50)"/>
<rect x="487.0" y="30.2" width="3.7" height="103.8" fill="url(#c7s51)"/>
<rect x="490.0" y="30.2" width="3.7" height="103.8" fill="url(#c7s52)"/>
<rect x="493.0" y="30.2" width="3.7" height="103.8" fill="url(#c7s53)"/>
<rect x="496.0" y="30.2" width="3.7" height="103.8" fill="url(#c7s54)"/>
<rect x="499.0" y="30.2" width="3.7" height="103.8" fill="url(#c7s55)"/>
<rect x="502.0" y="30.2" width="3.7" height="103.8" fill="url(#c7s56)"/>
<rect x="505.0" y="30.2" width="3.7" height="103.8" fill="url(#c7s57)"/>
<rect x="508.0" y="30.2" width="3.7" height="103.8" fill="url(#c7s58)"/>
<rect x="511.0" y="30.2" width="3.7" height="103.8" fill="url(#c7s59)"/>
<rect x="514.0" y="30.2" width="3.7" height="103.8" fill="url(#c7s60)"/>
<rect x="517.0" y="30.2" width="3.7" height="103.8" fill="url(#c7s61)"/>
<rect x="520.0" y="30.2" width="3.7" height="103.8" fill="url(#c7s62)"/>
<rect x="523.0" y="30.2" width="3.7" height="103.8" fill="url(#c7s63)"/>
<rect x="526.0" y="30.2" width="3.7" height="103.8" fill="url(#c7s64)"/>
<rect x="529.0" y="30.2" width="3.7" height="103.8" fill="url(#c7s65)"/>
<rect x="532.0" y="30.2" width="3.7" height="103.8" fill="url(#c7s66)"/>
<rect x="535.0" y="30.2" width="3.7" height="103.8" fill="url(#c7s67)"/>
<rect x="538.0" y="30.2" width="3.7" height="103.8" fill="url(#c7s68)"/>
<rect x="541.0" y="30.2" width="3.7" height="103.8" fill="url(#c7s69)"/>
<rect x="544.0" y="30.2" width="3.7" height="103.8" fill="url(#c7s70)"/>
<rect x="547.0" y="30.2" width="3.7" height="103.8" fill="url(#c7s71)"/>
<rect x="550.0" y="30.2" width="3.7" height="103.8" fill="url(#c7s72)"/>
<rect x="553.0" y="30.2" width="3.7" height="103.8" fill="url(#c7s73)"/>
<rect x="556.0" y="30.2" width="3.7" height="103.8" fill="url(#c7s74)"/>
<rect x="559.0" y="30.2" width="3.7" height="103.8" fill="url(#c7s75)"/>
<rect x="562.0" y="30.2" width="3.7" height="103.8" fill="url(#c7s76)"/>
<rect x="565.0" y="30.2" width="3.7" height="103.8" fill="url(#c7s77)"/>
<rect x="568.0" y="30.2" width="3.7" height="103.8" fill="url(#c7s78)"/>
<rect x="571.0" y="30.2" width="3.7" height="103.8" fill="url(#c7s79)"/>
<rect x="574.0" y="30.2" width="3.7" height="103.8" fill="url(#c7s80)"/>
<rect x="577.0" y="30.2" width="3.7" height="103.8" fill="url(#c7s81)"/>
<rect x="580.0" y="30.2" width="3.7" height="103.8" fill="url(#c7s82)"/>
<rect x="583.0" y="30.2" width="3.7" height="103.8" fill="url(#c7s83)"/>
<rect x="586.0" y="30.2" width="3.7" height="103.8" fill="url(#c7s84)"/>
<rect x="589.0" y="30.2" width="3.7" height="103.8" fill="url(#c7s85)"/>
<rect x="592.0" y="30.2" width="3.7" height="103.8" fill="url(#c7s86)"/>
<rect x="595.0" y="30.2" width="3.7" height="103.8" fill="url(#c7s87)"/>
<rect x="598.0" y="30.2" width="3.7" height="103.8" fill="url(#c7s88)"/>
<rect x="601.0" y="30.2" width="3.7" height="103.8" fill="url(#c7s89)"/>
<rect x="604.0" y="30.2" width="3.7" height="103.8" fill="url(#c7s90)"/>
<rect x="607.0" y="30.2" width="3.7" height="103.8" fill="url(#c7s91)"/>
<rect x="610.0" y="30.2" width="3.7" height="103.8" fill="url(#c7s92)"/>
<rect x="613.0" y="30.2" width="3.7" height="103.8" fill="url(#c7s93)"/>
<rect x="616.0" y="30.2" width="3.7" height="103.8" fill="url(#c7s94)"/>
<rect x="619.0" y="30.2" width="3.7" height="103.8" fill="url(#c7s95)"/>
<rect x="622.0" y="30.2" width="3.7" height="103.8" fill="url(#c7s96)"/>
<rect x="625.0" y="30.2" width="3.7" height="103.8" fill="url(#c7s97)"/>
<rect x="628.0" y="30.2" width="3.7" height="103.8" fill="url(#c7s98)"/>
<rect x="631.0" y="30.2" width="3.7" height="103.8" fill="url(#c7s99)"/>
<rect x="634.0" y="30.2" width="3.7" height="103.8" fill="url(#c7s100)"/>
<rect x="637.0" y="30.2" width="3.7" height="103.8" fill="url(#c7s101)"/>
<rect x="640.0" y="30.2" width="3.7" height="103.8" fill="url(#c7s102)"/>
<rect x="643.0" y="30.2" width="3.7" height="103.8" fill="url(#c7s103)"/>
<rect x="646.0" y="30.2" width="3.7" height="103.8" fill="url(#c7s104)"/>
<rect x="649.0" y="30.2" width="3.7" height="103.8" fill="url(#c7s105)"/>
<rect x="652.0" y="30.2" width="3.7" height="103.8" fill="url(#c7s106)"/>
<rect x="655.0" y="30.2" width="3.7" height="103.8" fill="url(#c7s107)"/>
</g></g>
<polygon points="163.0,151.0 190.0,153.6 266.0,148.0 320.0,139.0 325.0,133.0 329.6,127.0 334.4,132.0 372.7,132.0 386.0,130.8 386.7,124.3 445.0,117.7 449.5,113.0 452.6,119.0 471.8,120.8 491.0,118.0 496.0,115.0 509.0,117.0 606.0,102.4 490.0,201.0" fill="#ff2600" stroke="#ff2600" stroke-width="1"/>
<g stroke="#000" stroke-width="2.6" fill="none" stroke-linejoin="miter">
<polyline points="56.0,116.0 273.0,5.0 648.0,51.0 625.0,386.0 478.5,571.5 85.0,476.0 56.0,116.0 273.0,5.0"/>
<line x1="56.1" y1="117.0" x2="52.6" y2="117.0" stroke-width="1.4"/>
<line x1="60.1" y1="166.5" x2="56.6" y2="166.5" stroke-width="1.4"/>
<line x1="63.9" y1="213.5" x2="60.4" y2="213.5" stroke-width="1.4"/>
<line x1="67.6" y1="260.5" x2="64.1" y2="260.5" stroke-width="1.4"/>
<line x1="71.3" y1="306.5" x2="67.8" y2="306.5" stroke-width="1.4"/>
<line x1="75.0" y1="351.5" x2="71.5" y2="351.5" stroke-width="1.4"/>
<line x1="78.6" y1="396.0" x2="75.1" y2="396.0" stroke-width="1.4"/>
<line x1="82.1" y1="440.0" x2="78.6" y2="440.0" stroke-width="1.4"/>
<line x1="156.6" y1="493.4" x2="154.6" y2="496.9" stroke-width="1.6"/>
<line x1="241.2" y1="513.9" x2="239.2" y2="517.4" stroke-width="1.6"/>
<line x1="328.2" y1="535.0" x2="326.2" y2="538.5" stroke-width="1.6"/>
<line x1="418.7" y1="557.0" x2="416.7" y2="560.5" stroke-width="1.6"/>
<line x1="484.4" y1="564.1" x2="488.4" y2="565.1" stroke-width="1.6"/>
<line x1="506.0" y1="536.6" x2="510.0" y2="537.6" stroke-width="1.6"/>
<line x1="526.3" y1="511.0" x2="530.3" y2="512.0" stroke-width="1.6"/>
<line x1="546.3" y1="485.6" x2="550.3" y2="486.6" stroke-width="1.6"/>
<line x1="564.6" y1="462.4" x2="568.6" y2="463.4" stroke-width="1.6"/>
<line x1="582.2" y1="440.2" x2="586.2" y2="441.2" stroke-width="1.6"/>
<line x1="599.9" y1="417.7" x2="603.9" y2="418.7" stroke-width="1.6"/>
<line x1="615.9" y1="397.5" x2="619.9" y2="398.5" stroke-width="1.6"/>
</g>
<text transform="translate(61.2 37.9) scale(1 1.06)" font-family='"Liberation Serif", "Times New Roman", serif' font-size="34.5" font-weight="bold" text-anchor="middle">A</text>
<text transform="translate(46.4 120.8) scale(0.91 1)" font-family='"Liberation Sans", Arial, sans-serif' font-size="24.75" font-weight="bold" font-style="normal" text-anchor="end" dominant-baseline="central" >14</text>
<text transform="translate(50.6 171.2) scale(0.91 1)" font-family='"Liberation Sans", Arial, sans-serif' font-size="24.75" font-weight="bold" font-style="normal" text-anchor="end" dominant-baseline="central" >12</text>
<text transform="translate(54.2 219.8) scale(0.91 1)" font-family='"Liberation Sans", Arial, sans-serif' font-size="24.75" font-weight="bold" font-style="normal" text-anchor="end" dominant-baseline="central" >10</text>
<text transform="translate(58.0 266.4) scale(0.91 1)" font-family='"Liberation Sans", Arial, sans-serif' font-size="24.75" font-weight="bold" font-style="normal" text-anchor="end" dominant-baseline="central" >8</text>
<text transform="translate(62.4 314.0) scale(0.91 1)" font-family='"Liberation Sans", Arial, sans-serif' font-size="24.75" font-weight="bold" font-style="normal" text-anchor="end" dominant-baseline="central" >6</text>
<text transform="translate(66.5 358.8) scale(0.91 1)" font-family='"Liberation Sans", Arial, sans-serif' font-size="24.75" font-weight="bold" font-style="normal" text-anchor="end" dominant-baseline="central" >4</text>
<text transform="translate(69.8 403.6) scale(0.91 1)" font-family='"Liberation Sans", Arial, sans-serif' font-size="24.75" font-weight="bold" font-style="normal" text-anchor="end" dominant-baseline="central" >2</text>
<text transform="translate(73.0 446.8) scale(0.91 1)" font-family='"Liberation Sans", Arial, sans-serif' font-size="24.75" font-weight="bold" font-style="normal" text-anchor="end" dominant-baseline="central" >0</text>
<text transform="translate(17.6 304.5) rotate(-94.6) scale(0.91 1)" font-family='"Liberation Sans", Arial, sans-serif' font-size="28.6" font-weight="bold" text-anchor="middle" dominant-baseline="central"><tspan font-style="italic">G</tspan> (kJ/mol)</text>
<text transform="translate(141.0 515.3) scale(0.91 1)" font-family='"Liberation Sans", Arial, sans-serif' font-size="24.75" font-weight="bold" font-style="normal" text-anchor="middle" dominant-baseline="central" >1</text>
<text transform="translate(226.0 534.5) scale(0.91 1)" font-family='"Liberation Sans", Arial, sans-serif' font-size="24.75" font-weight="bold" font-style="normal" text-anchor="middle" dominant-baseline="central" >0</text>
<text transform="translate(310.5 557.0) scale(0.91 1)" font-family='"Liberation Sans", Arial, sans-serif' font-size="24.75" font-weight="bold" font-style="normal" text-anchor="middle" dominant-baseline="central" >-1</text>
<text transform="translate(403.0 577.0) scale(0.91 1)" font-family='"Liberation Sans", Arial, sans-serif' font-size="24.75" font-weight="bold" font-style="normal" text-anchor="middle" dominant-baseline="central" >-2</text>
<text transform="translate(512.8 568.2) scale(0.91 1)" font-family='"Liberation Sans", Arial, sans-serif' font-size="24.75" font-weight="bold" font-style="normal" text-anchor="middle" dominant-baseline="central" >-5</text>
<text transform="translate(533.2 541.6) scale(0.91 1)" font-family='"Liberation Sans", Arial, sans-serif' font-size="24.75" font-weight="bold" font-style="normal" text-anchor="middle" dominant-baseline="central" >-4</text>
<text transform="translate(553.3 514.6) scale(0.91 1)" font-family='"Liberation Sans", Arial, sans-serif' font-size="24.75" font-weight="bold" font-style="normal" text-anchor="middle" dominant-baseline="central" >-3</text>
<text transform="translate(572.0 491.0) scale(0.91 1)" font-family='"Liberation Sans", Arial, sans-serif' font-size="24.75" font-weight="bold" font-style="normal" text-anchor="middle" dominant-baseline="central" >-2</text>
<text transform="translate(589.2 466.4) scale(0.91 1)" font-family='"Liberation Sans", Arial, sans-serif' font-size="24.75" font-weight="bold" font-style="normal" text-anchor="middle" dominant-baseline="central" >-1</text>
<text transform="translate(602.6 443.6) scale(0.91 1)" font-family='"Liberation Sans", Arial, sans-serif' font-size="24.75" font-weight="bold" font-style="normal" text-anchor="middle" dominant-baseline="central" >0</text>
<text transform="translate(619.0 422.6) scale(0.91 1)" font-family='"Liberation Sans", Arial, sans-serif' font-size="24.75" font-weight="bold" font-style="normal" text-anchor="middle" dominant-baseline="central" >1</text>
<text transform="translate(635.0 401.2) scale(0.91 1)" font-family='"Liberation Sans", Arial, sans-serif' font-size="24.75" font-weight="bold" font-style="normal" text-anchor="middle" dominant-baseline="central" >2</text>
<text transform="translate(241.0 581.2) rotate(14) scale(0.91 1)" font-family='"Liberation Sans", Arial, sans-serif' font-size="28.05" font-weight="bold" font-style="normal" text-anchor="middle" dominant-baseline="central" >PC2</text>
<text transform="translate(604.4 513.0) rotate(-52) scale(0.91 1)" font-family='"Liberation Sans", Arial, sans-serif' font-size="28.05" font-weight="bold" font-style="normal" text-anchor="middle" dominant-baseline="central" >PC1</text>
<rect x="655.5" y="70.2" width="107.7" height="194.2" fill="#fff" stroke="#000" stroke-width="2"/>
<rect x="669.4" y="86.8" width="43.4" height="14.7" fill="#1a0070"/>
<text transform="translate(722.7 93.7)" font-family='"Liberation Sans", Arial, sans-serif' font-size="18.50" font-weight="normal" font-style="normal" text-anchor="start" dominant-baseline="central" >0</text>
<rect x="669.4" y="107.8" width="43.4" height="14.7" fill="#0000a4"/>
<text transform="translate(722.7 114.7)" font-family='"Liberation Sans", Arial, sans-serif' font-size="18.50" font-weight="normal" font-style="normal" text-anchor="start" dominant-baseline="central" >2</text>
<rect x="669.4" y="128.8" width="43.4" height="14.7" fill="#0000ff"/>
<text transform="translate(722.7 135.7)" font-family='"Liberation Sans", Arial, sans-serif' font-size="18.50" font-weight="normal" font-style="normal" text-anchor="start" dominant-baseline="central" >4</text>
<rect x="669.4" y="149.8" width="43.4" height="14.7" fill="#00805c"/>
<text transform="translate(722.7 156.7)" font-family='"Liberation Sans", Arial, sans-serif' font-size="18.50" font-weight="normal" font-style="normal" text-anchor="start" dominant-baseline="central" >6</text>
<rect x="669.4" y="170.8" width="43.4" height="14.7" fill="#4ad400"/>
<text transform="translate(722.7 177.7)" font-family='"Liberation Sans", Arial, sans-serif' font-size="18.50" font-weight="normal" font-style="normal" text-anchor="start" dominant-baseline="central" >8</text>
<rect x="669.4" y="191.8" width="43.4" height="14.7" fill="#ffff00"/>
<text transform="translate(722.7 198.7)" font-family='"Liberation Sans", Arial, sans-serif' font-size="18.50" font-weight="normal" font-style="normal" text-anchor="start" dominant-baseline="central" >10</text>
<rect x="669.4" y="212.8" width="43.4" height="14.7" fill="#ffa600"/>
<text transform="translate(722.7 219.7)" font-family='"Liberation Sans", Arial, sans-serif' font-size="18.50" font-weight="normal" font-style="normal" text-anchor="start" dominant-baseline="central" >12</text>
<rect x="669.4" y="233.8" width="43.4" height="14.7" fill="#ff5400"/>
<text transform="translate(722.7 240.7)" font-family='"Liberation Sans", Arial, sans-serif' font-size="18.50" font-weight="normal" font-style="normal" text-anchor="start" dominant-baseline="central" >14</text>
</g>
<g id="panelB">
<g stroke="#d2d2d2" stroke-width="1.25" fill="none">
<polyline points="880.6,128.5 1095.5,20.0 1468.6,66.0"/>
<polyline points="884.1,173.0 1095.8,58.8 1465.6,106.0"/>
<polyline points="887.5,216.0 1096.1,96.3 1462.7,145.5"/>
<polyline points="890.9,258.5 1096.4,133.3 1459.8,184.5"/>
<polyline points="894.2,300.0 1096.7,169.5 1456.9,223.0"/>
<polyline points="897.4,340.0 1097.0,204.3 1454.1,261.0"/>
<polyline points="900.5,379.5 1097.3,238.8 1451.3,298.5"/>
<polyline points="903.5,418.0 1097.5,272.3 1448.6,335.5"/>
<polyline points="906.5,455.5 1097.8,305.0 1445.9,372.0"/>
<polyline points="884.8,124.8 912.8,483.9"/>
<polyline points="927.8,102.9 950.6,452.9"/>
<polyline points="967.6,82.6 985.5,424.2"/>
<polyline points="1005.2,63.4 1018.6,397.1"/>
<polyline points="1039.6,45.9 1048.9,372.3"/>
<polyline points="1071.8,29.5 1077.2,349.1"/>
<polyline points="1159.7,25.4 1157.5,343.2"/>
<polyline points="1232.5,34.5 1225.0,355.9"/>
<polyline points="1307.1,43.8 1294.2,368.9"/>
<polyline points="1384.7,53.5 1366.2,382.4"/>
<polyline points="1463.1,63.3 1438.8,396.0"/>
</g>
<line x1="1095.5" y1="17.4" x2="1098.0" y2="332.0" stroke="#000" stroke-width="2.4" />
<polygon points="909.0,487.0 1098.0,332.0 1444.0,397.0 1301.0,581.5" fill="#ff5a00" />
<g clip-path="url(#floorB)"><g filter="url(#wob)">
<g filter="url(#bl2)">
<polygon points="1012.0,432.0 1020.0,427.0 1039.0,424.0 1065.0,425.0 1090.0,424.0 1116.0,428.0 1128.0,436.0 1136.0,448.0 1146.0,457.0 1160.0,458.0 1175.0,462.0 1192.0,468.0 1210.0,472.0 1240.0,474.0 1272.0,474.0 1283.0,482.0 1294.0,494.0 1295.0,511.0 1304.0,536.0 1309.0,550.0 1301.0,565.0 1285.0,570.0 1265.0,560.0 1231.0,543.0 1192.0,519.0 1162.0,499.0 1143.0,485.0 1133.0,480.0 1123.0,480.0 1104.0,485.0 1085.0,490.0 1065.0,487.0 1045.0,480.0 1030.0,468.0 1021.0,457.0 1013.0,448.0 1009.0,440.0" fill="#ffa400" stroke="#ffa400" stroke-width="24" stroke-linejoin="round"/>
<polygon points="1293.0,425.0 1296.0,400.0 1303.4,381.4 1326.4,384.0 1344.3,389.0 1354.6,396.8 1364.8,407.0 1370.0,422.4 1364.8,435.0 1354.6,440.0 1339.0,435.0 1318.7,430.0 1303.4,427.5" fill="#ffa400" stroke="#ffa400" stroke-width="24" stroke-linejoin="round"/>
<polygon points="1283.0,440.0 1300.0,436.0 1302.0,462.0 1296.0,482.0 1280.0,478.0 1276.0,462.0" fill="#ffc400" stroke="#ffa400" stroke-width="4" stroke-linejoin="round"/>
<polygon points="1095.0,482.0 1125.0,480.0 1135.0,492.0 1110.0,500.0 1092.0,494.0" fill="#ffc400" stroke="#ffa400" stroke-width="4" stroke-linejoin="round"/>
<polygon points="1123.0,432.0 1150.0,436.0 1172.0,452.0 1160.0,458.0 1140.0,452.0" fill="#ffc400" stroke="#ffa400" stroke-width="4" stroke-linejoin="round"/>
</g>
<g filter="url(#bl1)">
<polygon points="1012.0,432.0 1020.0,427.0 1039.0,424.0 1065.0,425.0 1090.0,424.0 1116.0,428.0 1128.0,436.0 1136.0,448.0 1146.0,457.0 1160.0,458.0 1175.0,462.0 1192.0,468.0 1210.0,472.0 1240.0,474.0 1272.0,474.0 1283.0,482.0 1294.0,494.0 1295.0,511.0 1304.0,536.0 1309.0,550.0 1301.0,565.0 1285.0,570.0 1265.0,560.0 1231.0,543.0 1192.0,519.0 1162.0,499.0 1143.0,485.0 1133.0,480.0 1123.0,480.0 1104.0,485.0 1085.0,490.0 1065.0,487.0 1045.0,480.0 1030.0,468.0 1021.0,457.0 1013.0,448.0 1009.0,440.0" fill="#ffff00" stroke="#ffff00" stroke-width="12" stroke-linejoin="round"/>
<polygon points="1293.0,425.0 1296.0,400.0 1303.4,381.4 1326.4,384.0 1344.3,389.0 1354.6,396.8 1364.8,407.0 1370.0,422.4 1364.8,435.0 1354.6,440.0 1339.0,435.0 1318.7,430.0 1303.4,427.5" fill="#ffff00" stroke="#ffff00" stroke-width="12" stroke-linejoin="round"/>
<polygon points="1012.0,432.0 1020.0,427.0 1039.0,424.0 1065.0,425.0 1090.0,424.0 1116.0,428.0 1128.0,436.0 1136.0,448.0 1146.0,457.0 1160.0,458.0 1175.0,462.0 1192.0,468.0 1210.0,472.0 1240.0,474.0 1272.0,474.0 1283.0,482.0 1294.0,494.0 1295.0,511.0 1304.0,536.0 1309.0,550.0 1301.0,565.0 1285.0,570.0 1265.0,560.0 1231.0,543.0 1192.0,519.0 1162.0,499.0 1143.0,485.0 1133.0,480.0 1123.0,480.0 1104.0,485.0 1085.0,490.0 1065.0,487.0 1045.0,480.0 1030.0,468.0 1021.0,457.0 1013.0,448.0 1009.0,440.0" fill="#10c400" stroke="#70e000" stroke-width="2.5" stroke-linejoin="round"/>
<polygon points="1293.0,425.0 1296.0,400.0 1303.4,381.4 1326.4,384.0 1344.3,389.0 1354.6,396.8 1364.8,407.0 1370.0,422.4 1364.8,435.0 1354.6,440.0 1339.0,435.0 1318.7,430.0 1303.4,427.5" fill="#10c400" stroke="#70e000" stroke-width="2.5" stroke-linejoin="round"/>
</g>
<g filter="url(#bl3)">
<polygon points="1112.0,460.0 1130.0,466.0 1150.0,472.0 1148.0,478.0 1125.0,476.0 1110.0,470.0" fill="#008a50" opacity="0.75"/>
</g>
<g filter="url(#bl2)">
<polygon points="1028.0,445.0 1040.0,437.0 1060.0,434.0 1090.0,436.0 1108.0,442.0 1116.0,452.0 1113.0,465.0 1100.0,474.0 1080.0,478.0 1056.0,473.0 1038.0,462.0" fill="#0000f0" stroke="#008060" stroke-width="7" stroke-linejoin="round"/>
<polygon points="1028.0,445.0 1040.0,437.0 1060.0,434.0 1090.0,436.0 1108.0,442.0 1116.0,452.0 1113.0,465.0 1100.0,474.0 1080.0,478.0 1056.0,473.0 1038.0,462.0" fill="#0000f0" stroke="#0000f0" stroke-width="4" stroke-linejoin="round"/>
<polygon points="1298.0,397.0 1313.6,394.0 1334.0,404.5 1349.4,417.0 1352.0,425.0 1339.0,427.5 1318.7,422.4 1303.4,417.0 1296.0,410.0" fill="#0000f0" stroke="#008060" stroke-width="7" stroke-linejoin="round"/>
<polygon points="1298.0,397.0 1313.6,394.0 1334.0,404.5 1349.4,417.0 1352.0,425.0 1339.0,427.5 1318.7,422.4 1303.4,417.0 1296.0,410.0" fill="#0000f0" stroke="#0000f0" stroke-width="4" stroke-linejoin="round"/>
<polygon points="1150.0,466.0 1170.0,466.0 1200.0,472.0 1240.0,480.0 1270.0,490.0 1284.0,502.0 1290.0,520.0 1296.0,540.0 1291.0,556.0 1272.0,556.0 1245.0,543.0 1220.0,528.0 1195.0,512.0 1172.0,496.0 1157.0,484.0 1148.0,474.0" fill="#0000f0" stroke="#008060" stroke-width="7" stroke-linejoin="round"/>
<polygon points="1150.0,466.0 1170.0,466.0 1200.0,472.0 1240.0,480.0 1270.0,490.0 1284.0,502.0 1290.0,520.0 1296.0,540.0 1291.0,556.0 1272.0,556.0 1245.0,543.0 1220.0,528.0 1195.0,512.0 1172.0,496.0 1157.0,484.0 1148.0,474.0" fill="#0000f0" stroke="#0000f0" stroke-width="4" stroke-linejoin="round"/>
</g>
<g filter="url(#bl3)">
<polygon points="1044.0,446.0 1060.0,443.0 1075.0,448.0 1076.0,458.0 1060.0,462.0 1046.0,457.0" fill="#0a0088" />
<polygon points="1172.0,480.0 1200.0,488.0 1235.0,503.0 1265.0,520.0 1282.0,538.0 1280.0,550.0 1258.0,546.0 1230.0,532.0 1200.0,514.0 1176.0,498.0" fill="#0a0088" />
</g>
</g></g>
<polyline points="909.0,487.0 1098.0,332.0 1444.0,397.0" fill="none" stroke="#000" stroke-width="1.8"/>
<g clip-path="url(#c8)"><g filter="url(#hbl)">
<rect x="1312.0" y="166.7" width="4.7" height="170.9" fill="url(#c8s0)"/>
<rect x="1316.0" y="166.7" width="4.7" height="170.9" fill="url(#c8s1)"/>
<rect x="1320.0" y="166.7" width="4.7" height="170.9" fill="url(#c8s2)"/>
<rect x="1324.0" y="166.7" width="4.7" height="170.9" fill="url(#c8s3)"/>
<rect x="1328.0" y="166.7" width="4.7" height="170.9" fill="url(#c8s4)"/>
<rect x="1332.0" y="166.7" width="4.7" height="170.9" fill="url(#c8s5)"/>
<rect x="1336.0" y="166.7" width="4.7" height="170.9" fill="url(#c8s6)"/>
<rect x="1340.0" y="166.7" width="4.7" height="170.9" fill="url(#c8s7)"/>
<rect x="1344.0" y="166.7" width="4.7" height="170.9" fill="url(#c8s8)"/>
<rect x="1348.0" y="166.7" width="4.7" height="170.9" fill="url(#c8s9)"/>
<rect x="1352.0" y="166.7" width="4.7" height="170.9" fill="url(#c8s10)"/>
<rect x="1356.0" y="166.7" width="4.7" height="170.9" fill="url(#c8s11)"/>
<rect x="1360.0" y="166.7" width="4.7" height="170.9" fill="url(#c8s12)"/>
<rect x="1364.0" y="166.7" width="4.7" height="170.9" fill="url(#c8s13)"/>
<rect x="1368.0" y="166.7" width="4.7" height="170.9" fill="url(#c8s14)"/>
<rect x="1372.0" y="166.7" width="4.7" height="170.9" fill="url(#c8s15)"/>
<rect x="1376.0" y="166.7" width="4.7" height="170.9" fill="url(#c8s16)"/>
<rect x="1380.0" y="166.7" width="4.7" height="170.9" fill="url(#c8s17)"/>
<rect x="1384.0" y="166.7" width="4.7" height="170.9" fill="url(#c8s18)"/>
<rect x="1388.0" y="166.7" width="4.7" height="170.9" fill="url(#c8s19)"/>
<rect x="1392.0" y="166.7" width="4.7" height="170.9" fill="url(#c8s20)"/>
<rect x="1396.0" y="166.7" width="4.7" height="170.9" fill="url(#c8s21)"/>
<rect x="1400.0" y="166.7" width="4.7" height="170.9" fill="url(#c8s22)"/>
<rect x="1404.0" y="166.7" width="4.7" height="170.9" fill="url(#c8s23)"/>
</g></g>
<g clip-path="url(#c9)"><g filter="url(#hbl)">
<rect x="872.0" y="54.5" width="4.7" height="211.5" fill="url(#c9s0)"/>
<rect x="876.0" y="54.5" width="4.7" height="211.5" fill="url(#c9s1)"/>
<rect x="880.0" y="54.5" width="4.7" height="211.5" fill="url(#c9s2)"/>
<rect x="884.0" y="54.5" width="4.7" height="211.5" fill="url(#c9s3)"/>
<rect x="888.0" y="54.5" width="4.7" height="211.5" fill="url(#c9s4)"/>
<rect x="892.0" y="54.5" width="4.7" height="211.5" fill="url(#c9s5)"/>
<rect x="896.0" y="54.5" width="4.7" height="211.5" fill="url(#c9s6)"/>
<rect x="900.0" y="54.5" width="4.7" height="211.5" fill="url(#c9s7)"/>
<rect x="904.0" y="54.5" width="4.7" height="211.5" fill="url(#c9s8)"/>
<rect x="908.0" y="54.5" width="4.7" height="211.5" fill="url(#c9s9)"/>
<rect x="912.0" y="54.5" width="4.7" height="211.5" fill="url(#c9s10)"/>
<rect x="916.0" y="54.5" width="4.7" height="211.5" fill="url(#c9s11)"/>
<rect x="920.0" y="54.5" width="4.7" height="211.5" fill="url(#c9s12)"/>
<rect x="924.0" y="54.5" width="4.7" height="211.5" fill="url(#c9s13)"/>
<rect x="928.0" y="54.5" width="4.7" height="211.5" fill="url(#c9s14)"/>
<rect x="932.0" y="54.5" width="4.7" height="211.5" fill="url(#c9s15)"/>
<rect x="936.0" y="54.5" width="4.7" height="211.5" fill="url(#c9s16)"/>
<rect x="940.0" y="54.5" width="4.7" height="211.5" fill="url(#c9s17)"/>
<rect x="944.0" y="54.5" width="4.7" height="211.5" fill="url(#c9s18)"/>
<rect x="948.0" y="54.5" width="4.7" height="211.5" fill="url(#c9s19)"/>
<rect x="952.0" y="54.5" width="4.7" height="211.5" fill="url(#c9s20)"/>
<rect x="956.0" y="54.5" width="4.7" height="211.5" fill="url(#c9s21)"/>
<rect x="960.0" y="54.5" width="4.7" height="211.5" fill="url(#c9s22)"/>
<rect x="964.0" y="54.5" width="4.7" height="211.5" fill="url(#c9s23)"/>
<rect x="968.0" y="54.5" width="4.7" height="211.5" fill="url(#c9s24)"/>
<rect x="972.0" y="54.5" width="4.7" height="211.5" fill="url(#c9s25)"/>
<rect x="976.0" y="54.5" width="4.7" height="211.5" fill="url(#c9s26)"/>
<rect x="980.0" y="54.5" width="4.7" height="211.5" fill="url(#c9s27)"/>
<rect x="984.0" y="54.5" width="4.7" height="211.5" fill="url(#c9s28)"/>
<rect x="988.0" y="54.5" width="4.7" height="211.5" fill="url(#c9s29)"/>
<rect x="992.0" y="54.5" width="4.7" height="211.5" fill="url(#c9s30)"/>
<rect x="996.0" y="54.5" width="4.7" height="211.5" fill="url(#c9s31)"/>
<rect x="1000.0" y="54.5" width="4.7" height="211.5" fill="url(#c9s32)"/>
<rect x="1004.0" y="54.5" width="4.7" height="211.5" fill="url(#c9s33)"/>
<rect x="1008.0" y="54.5" width="4.7" height="211.5" fill="url(#c9s34)"/>
<rect x="1012.0" y="54.5" width="4.7" height="211.5" fill="url(#c9s35)"/>
<rect x="1016.0" y="54.5" width="4.7" height="211.5" fill="url(#c9s36)"/>
<rect x="1020.0" y="54.5" width="4.7" height="211.5" fill="url(#c9s37)"/>
<rect x="1024.0" y="54.5" width="4.7" height="211.5" fill="url(#c9s38)"/>
<rect x="1028.0" y="54.5" width="4.7" height="211.5" fill="url(#c9s39)"/>
<rect x="1032.0" y="54.5" width="4.7" height="211.5" fill="url(#c9s40)"/>
<rect x="1036.0" y="54.5" width="4.7" height="211.5" fill="url(#c9s41)"/>
<rect x="1040.0" y="54.5" width="4.7" height="211.5" fill="url(#c9s42)"/>
<rect x="1044.0" y="54.5" width="4.7" height="211.5" fill="url(#c9s43)"/>
<rect x="1048.0" y="54.5" width="4.7" height="211.5" fill="url(#c9s44)"/>
<rect x="1052.0" y="54.5" width="4.7" height="211.5" fill="url(#c9s45)"/>
<rect x="1056.0" y="54.5" width="4.7" height="211.5" fill="url(#c9s46)"/>
<rect x="1060.0" y="54.5" width="4.7" height="211.5" fill="url(#c9s47)"/>
<rect x="1064.0" y="54.5" width="4.7" height="211.5" fill="url(#c9s48)"/>
<rect x="1068.0" y="54.5" width="4.7" height="211.5" fill="url(#c9s49)"/>
<rect x="1072.0" y="54.5" width="4.7" height="211.5" fill="url(#c9s50)"/>
<rect x="1076.0" y="54.5" width="4.7" height="211.5" fill="url(#c9s51)"/>
<rect x="1080.0" y="54.5" width="4.7" height="211.5" fill="url(#c9s52)"/>
<rect x="1084.0" y="54.5" width="4.7" height="211.5" fill="url(#c9s53)"/>
<rect x="1088.0" y="54.5" width="4.7" height="211.5" fill="url(#c9s54)"/>
<rect x="1092.0" y="54.5" width="4.7" height="211.5" fill="url(#c9s55)"/>
<rect x="1096.0" y="54.5" width="4.7" height="211.5" fill="url(#c9s56)"/>
<rect x="1100.0" y="54.5" width="4.7" height="211.5" fill="url(#c9s57)"/>
<rect x="1104.0" y="54.5" width="4.7" height="211.5" fill="url(#c9s58)"/>
<rect x="1108.0" y="54.5" width="4.7" height="211.5" fill="url(#c9s59)"/>
<rect x="1112.0" y="54.5" width="4.7" height="211.5" fill="url(#c9s60)"/>
<rect x="1116.0" y="54.5" width="4.7" height="211.5" fill="url(#c9s61)"/>
<rect x="1120.0" y="54.5" width="4.7" height="211.5" fill="url(#c9s62)"/>
<rect x="1124.0" y="54.5" width="4.7" height="211.5" fill="url(#c9s63)"/>
<rect x="1128.0" y="54.5" width="4.7" height="211.5" fill="url(#c9s64)"/>
<rect x="1132.0" y="54.5" width="4.7" height="211.5" fill="url(#c9s65)"/>
<rect x="1136.0" y="54.5" width="4.7" height="211.5" fill="url(#c9s66)"/>
<rect x="1140.0" y="54.5" width="4.7" height="211.5" fill="url(#c9s67)"/>
<rect x="1144.0" y="54.5" width="4.7" height="211.5" fill="url(#c9s68)"/>
<rect x="1148.0" y="54.5" width="4.7" height="211.5" fill="url(#c9s69)"/>
<rect x="1152.0" y="54.5" width="4.7" height="211.5" fill="url(#c9s70)"/>
<rect x="1156.0" y="54.5" width="4.7" height="211.5" fill="url(#c9s71)"/>
<rect x="1160.0" y="54.5" width="4.7" height="211.5" fill="url(#c9s72)"/>
<rect x="1164.0" y="54.5" width="4.7" height="211.5" fill="url(#c9s73)"/>
<rect x="1168.0" y="54.5" width="4.7" height="211.5" fill="url(#c9s74)"/>
<rect x="1172.0" y="54.5" width="4.7" height="211.5" fill="url(#c9s75)"/>
<rect x="1176.0" y="54.5" width="4.7" height="211.5" fill="url(#c9s76)"/>
<rect x="1180.0" y="54.5" width="4.7" height="211.5" fill="url(#c9s77)"/>
<rect x="1184.0" y="54.5" width="4.7" height="211.5" fill="url(#c9s78)"/>
<rect x="1188.0" y="54.5" width="4.7" height="211.5" fill="url(#c9s79)"/>
<rect x="1192.0" y="54.5" width="4.7" height="211.5" fill="url(#c9s80)"/>
<rect x="1196.0" y="54.5" width="4.7" height="211.5" fill="url(#c9s81)"/>
<rect x="1200.0" y="54.5" width="4.7" height="211.5" fill="url(#c9s82)"/>
<rect x="1204.0" y="54.5" width="4.7" height="211.5" fill="url(#c9s83)"/>
<rect x="1208.0" y="54.5" width="4.7" height="211.5" fill="url(#c9s84)"/>
<rect x="1212.0" y="54.5" width="4.7" height="211.5" fill="url(#c9s85)"/>
<rect x="1216.0" y="54.5" width="4.7" height="211.5" fill="url(#c9s86)"/>
<rect x="1220.0" y="54.5" width="4.7" height="211.5" fill="url(#c9s87)"/>
<rect x="1224.0" y="54.5" width="4.7" height="211.5" fill="url(#c9s88)"/>
<rect x="1228.0" y="54.5" width="4.7" height="211.5" fill="url(#c9s89)"/>
<rect x="1232.0" y="54.5" width="4.7" height="211.5" fill="url(#c9s90)"/>
<rect x="1236.0" y="54.5" width="4.7" height="211.5" fill="url(#c9s91)"/>
<rect x="1240.0" y="54.5" width="4.7" height="211.5" fill="url(#c9s92)"/>
<rect x="1244.0" y="54.5" width="4.7" height="211.5" fill="url(#c9s93)"/>
<rect x="1248.0" y="54.5" width="4.7" height="211.5" fill="url(#c9s94)"/>
<rect x="1252.0" y="54.5" width="4.7" height="211.5" fill="url(#c9s95)"/>
<rect x="1256.0" y="54.5" width="4.7" height="211.5" fill="url(#c9s96)"/>
<rect x="1260.0" y="54.5" width="4.7" height="211.5" fill="url(#c9s97)"/>
<rect x="1264.0" y="54.5" width="4.7" height="211.5" fill="url(#c9s98)"/>
<rect x="1268.0" y="54.5" width="4.7" height="211.5" fill="url(#c9s99)"/>
<rect x="1272.0" y="54.5" width="4.7" height="211.5" fill="url(#c9s100)"/>
<rect x="1276.0" y="54.5" width="4.7" height="211.5" fill="url(#c9s101)"/>
<rect x="1280.0" y="54.5" width="4.7" height="211.5" fill="url(#c9s102)"/>
<rect x="1284.0" y="54.5" width="4.7" height="211.5" fill="url(#c9s103)"/>
<rect x="1288.0" y="54.5" width="4.7" height="211.5" fill="url(#c9s104)"/>
<rect x="1292.0" y="54.5" width="4.7" height="211.5" fill="url(#c9s105)"/>
<rect x="1296.0" y="54.5" width="4.7" height="211.5" fill="url(#c9s106)"/>
<rect x="1300.0" y="54.5" width="4.7" height="211.5" fill="url(#c9s107)"/>
<rect x="1304.0" y="54.5" width="4.7" height="211.5" fill="url(#c9s108)"/>
<rect x="1308.0" y="54.5" width="4.7" height="211.5" fill="url(#c9s109)"/>
<rect x="1312.0" y="54.5" width="4.7" height="211.5" fill="url(#c9s110)"/>
<rect x="1316.0" y="54.5" width="4.7" height="211.5" fill="url(#c9s111)"/>
<rect x="1320.0" y="54.5" width="4.7" height="211.5" fill="url(#c9s112)"/>
<rect x="1324.0" y="54.5" width="4.7" height="211.5" fill="url(#c9s113)"/>
<rect x="1328.0" y="54.5" width="4.7" height="211.5" fill="url(#c9s114)"/>
<rect x="1332.0" y="54.5" width="4.7" height="211.5" fill="url(#c9s115)"/>
<rect x="1336.0" y="54.5" width="4.7" height="211.5" fill="url(#c9s116)"/>
<rect x="1340.0" y="54.5" width="4.7" height="211.5" fill="url(#c9s117)"/>
<rect x="1344.0" y="54.5" width="4.7" height="211.5" fill="url(#c9s118)"/>
<rect x="1348.0" y="54.5" width="4.7" height="211.5" fill="url(#c9s119)"/>
<rect x="1352.0" y="54.5" width="4.7" height="211.5" fill="url(#c9s120)"/>
<rect x="1356.0" y="54.5" width="4.7" height="211.5" fill="url(#c9s121)"/>
<rect x="1360.0" y="54.5" width="4.7" height="211.5" fill="url(#c9s122)"/>
<rect x="1364.0" y="54.5" width="4.7" height="211.5" fill="url(#c9s123)"/>
<rect x="1368.0" y="54.5" width="4.7" height="211.5" fill="url(#c9s124)"/>
<rect x="1372.0" y="54.5" width="4.7" height="211.5" fill="url(#c9s125)"/>
<rect x="1376.0" y="54.5" width="4.7" height="211.5" fill="url(#c9s126)"/>
<rect x="1380.0" y="54.5" width="4.7" height="211.5" fill="url(#c9s127)"/>
<rect x="1384.0" y="54.5" width="4.7" height="211.5" fill="url(#c9s128)"/>
<rect x="1388.0" y="54.5" width="4.7" height="211.5" fill="url(#c9s129)"/>
<rect x="1392.0" y="54.5" width="4.7" height="211.5" fill="url(#c9s130)"/>
<rect x="1396.0" y="54.5" width="4.7" height="211.5" fill="url(#c9s131)"/>
<rect x="1400.0" y="54.5" width="4.7" height="211.5" fill="url(#c9s132)"/>
<rect x="1404.0" y="54.5" width="4.7" height="211.5" fill="url(#c9s133)"/>
<rect x="1408.0" y="54.5" width="4.7" height="211.5" fill="url(#c9s134)"/>
<rect x="1412.0" y="54.5" width="4.7" height="211.5" fill="url(#c9s135)"/>
<rect x="1416.0" y="54.5" width="4.7" height="211.5" fill="url(#c9s136)"/>
<rect x="1420.0" y="54.5" width="4.7" height="211.5" fill="url(#c9s137)"/>
<rect x="1424.0" y="54.5" width="4.7" height="211.5" fill="url(#c9s138)"/>
<rect x="1428.0" y="54.5" width="4.7" height="211.5" fill="url(#c9s139)"/>
<rect x="1432.0" y="54.5" width="4.7" height="211.5" fill="url(#c9s140)"/>
<rect x="1436.0" y="54.5" width="4.7" height="211.5" fill="url(#c9s141)"/>
<rect x="1440.0" y="54.5" width="4.7" height="211.5" fill="url(#c9s142)"/>
<rect x="1444.0" y="54.5" width="4.7" height="211.5" fill="url(#c9s143)"/>
<rect x="1448.0" y="54.5" width="4.7" height="211.5" fill="url(#c9s144)"/>
<rect x="1452.0" y="54.5" width="4.7" height="211.5" fill="url(#c9s145)"/>
<rect x="1456.0" y="54.5" width="4.7" height="211.5" fill="url(#c9s146)"/>
<rect x="1460.0" y="54.5" width="4.7" height="211.5" fill="url(#c9s147)"/>
<rect x="1464.0" y="54.5" width="4.7" height="211.5" fill="url(#c9s148)"/>
<rect x="1468.0" y="54.5" width="4.7" height="211.5" fill="url(#c9s149)"/>
<rect x="1472.0" y="54.5" width="4.7" height="211.5" fill="url(#c9s150)"/>
</g></g>
<g clip-path="url(#cfB)" filter="url(#bl1)">
<polygon points="1236.0,118.0 1222.0,166.0 1247.0,166.0" fill="url(#k10)"/>
<polygon points="1228.3,149.0 1209.0,199.0 1242.0,184.0" fill="url(#k11)"/>
<polygon points="1259.0,147.8 1245.0,184.0 1268.0,200.0" fill="url(#k12)"/>
<polygon points="1046.0,124.0 1034.0,150.0 1060.0,150.0" fill="url(#k13)"/>
<polygon points="1067.0,122.0 1056.0,146.0 1080.0,146.0" fill="url(#k14)"/>
<polygon points="1163.0,124.0 1148.0,175.0 1180.0,175.0" fill="url(#k15)"/>
<polygon points="1120.0,128.0 1106.0,170.0 1132.0,170.0" fill="url(#k16)"/>
<polygon points="1195.0,112.0 1180.0,160.0 1212.0,160.0" fill="url(#k17)"/>
</g>
<polygon points="1267.0,157.0 1276.0,150.0 1290.0,153.0 1305.5,138.0 1314.0,150.0 1314.0,244.5 1318.7,262.4 1312.0,244.5 1295.7,265.0 1281.6,239.4 1272.0,252.0 1268.0,232.0" fill="url(#gBcol)" />
<polygon points="1296.0,160.0 1305.5,138.0 1314.0,150.0 1316.0,250.0 1318.7,262.4 1310.0,246.0 1302.0,250.0" fill="url(#gBcol2)" />
<polygon points="1306.0,137.0 1347.6,142.7 1365.5,140.4 1392.4,140.4 1401.0,123.6 1464.6,105.0 1340.8,230.0 1336.6,262.4 1324.0,258.6 1318.7,262.4 1314.0,244.5 1312.0,200.0 1308.0,160.0" fill="#ff5f00" />
<g clip-path="url(#c18)"><g filter="url(#hbl)">
<rect x="976.0" y="184.5" width="4.7" height="302.1" fill="url(#c18s0)"/>
<rect x="980.0" y="184.5" width="4.7" height="302.1" fill="url(#c18s1)"/>
<rect x="984.0" y="184.5" width="4.7" height="302.1" fill="url(#c18s2)"/>
<rect x="988.0" y="184.5" width="4.7" height="302.1" fill="url(#c18s3)"/>
<rect x="992.0" y="184.5" width="4.7" height="302.1" fill="url(#c18s4)"/>
<rect x="996.0" y="184.5" width="4.7" height="302.1" fill="url(#c18s5)"/>
<rect x="1000.0" y="184.5" width="4.7" height="302.1" fill="url(#c18s6)"/>
<rect x="1004.0" y="184.5" width="4.7" height="302.1" fill="url(#c18s7)"/>
<rect x="1008.0" y="184.5" width="4.7" height="302.1" fill="url(#c18s8)"/>
<rect x="1012.0" y="184.5" width="4.7" height="302.1" fill="url(#c18s9)"/>
<rect x="1016.0" y="184.5" width="4.7" height="302.1" fill="url(#c18s10)"/>
<rect x="1020.0" y="184.5" width="4.7" height="302.1" fill="url(#c18s11)"/>
<rect x="1024.0" y="184.5" width="4.7" height="302.1" fill="url(#c18s12)"/>
<rect x="1028.0" y="184.5" width="4.7" height="302.1" fill="url(#c18s13)"/>
<rect x="1032.0" y="184.5" width="4.7" height="302.1" fill="url(#c18s14)"/>
<rect x="1036.0" y="184.5" width="4.7" height="302.1" fill="url(#c18s15)"/>
<rect x="1040.0" y="184.5" width="4.7" height="302.1" fill="url(#c18s16)"/>
<rect x="1044.0" y="184.5" width="4.7" height="302.1" fill="url(#c18s17)"/>
<rect x="1048.0" y="184.5" width="4.7" height="302.1" fill="url(#c18s18)"/>
<rect x="1052.0" y="184.5" width="4.7" height="302.1" fill="url(#c18s19)"/>
<rect x="1056.0" y="184.5" width="4.7" height="302.1" fill="url(#c18s20)"/>
<rect x="1060.0" y="184.5" width="4.7" height="302.1" fill="url(#c18s21)"/>
<rect x="1064.0" y="184.5" width="4.7" height="302.1" fill="url(#c18s22)"/>
<rect x="1068.0" y="184.5" width="4.7" height="302.1" fill="url(#c18s23)"/>
<rect x="1072.0" y="184.5" width="4.7" height="302.1" fill="url(#c18s24)"/>
<rect x="1076.0" y="184.5" width="4.7" height="302.1" fill="url(#c18s25)"/>
<rect x="1080.0" y="184.5" width="4.7" height="302.1" fill="url(#c18s26)"/>
<rect x="1084.0" y="184.5" width="4.7" height="302.1" fill="url(#c18s27)"/>
<rect x="1088.0" y="184.5" width="4.7" height="302.1" fill="url(#c18s28)"/>
<rect x="1092.0" y="184.5" width="4.7" height="302.1" fill="url(#c18s29)"/>
<rect x="1096.0" y="184.5" width="4.7" height="302.1" fill="url(#c18s30)"/>
<rect x="1100.0" y="184.5" width="4.7" height="302.1" fill="url(#c18s31)"/>
<rect x="1104.0" y="184.5" width="4.7" height="302.1" fill="url(#c18s32)"/>
<rect x="1108.0" y="184.5" width="4.7" height="302.1" fill="url(#c18s33)"/>
<rect x="1112.0" y="184.5" width="4.7" height="302.1" fill="url(#c18s34)"/>
<rect x="1116.0" y="184.5" width="4.7" height="302.1" fill="url(#c18s35)"/>
<rect x="1120.0" y="184.5" width="4.7" height="302.1" fill="url(#c18s36)"/>
<rect x="1124.0" y="184.5" width="4.7" height="302.1" fill="url(#c18s37)"/>
<rect x="1128.0" y="184.5" width="4.7" height="302.1" fill="url(#c18s38)"/>
<rect x="1132.0" y="184.5" width="4.7" height="302.1" fill="url(#c18s39)"/>
<rect x="1136.0" y="184.5" width="4.7" height="302.1" fill="url(#c18s40)"/>
<rect x="1140.0" y="184.5" width="4.7" height="302.1" fill="url(#c18s41)"/>
<rect x="1144.0" y="184.5" width="4.7" height="302.1" fill="url(#c18s42)"/>
<rect x="1148.0" y="184.5" width="4.7" height="302.1" fill="url(#c18s43)"/>
<rect x="1152.0" y="184.5" width="4.7" height="302.1" fill="url(#c18s44)"/>
<rect x="1156.0" y="184.5" width="4.7" height="302.1" fill="url(#c18s45)"/>
<rect x="1160.0" y="184.5" width="4.7" height="302.1" fill="url(#c18s46)"/>
<rect x="1164.0" y="184.5" width="4.7" height="302.1" fill="url(#c18s47)"/>
<rect x="1168.0" y="184.5" width="4.7" height="302.1" fill="url(#c18s48)"/>
<rect x="1172.0" y="184.5" width="4.7" height="302.1" fill="url(#c18s49)"/>
<rect x="1176.0" y="184.5" width="4.7" height="302.1" fill="url(#c18s50)"/>
<rect x="1180.0" y="184.5" width="4.7" height="302.1" fill="url(#c18s51)"/>
<rect x="1184.0" y="184.5" width="4.7" height="302.1" fill="url(#c18s52)"/>
<rect x="1188.0" y="184.5" width="4.7" height="302.1" fill="url(#c18s53)"/>
<rect x="1192.0" y="184.5" width="4.7" height="302.1" fill="url(#c18s54)"/>
<rect x="1196.0" y="184.5" width="4.7" height="302.1" fill="url(#c18s55)"/>
<rect x="1200.0" y="184.5" width="4.7" height="302.1" fill="url(#c18s56)"/>
<rect x="1204.0" y="184.5" width="4.7" height="302.1" fill="url(#c18s57)"/>
<rect x="1208.0" y="184.5" width="4.7" height="302.1" fill="url(#c18s58)"/>
<rect x="1212.0" y="184.5" width="4.7" height="302.1" fill="url(#c18s59)"/>
<rect x="1216.0" y="184.5" width="4.7" height="302.1" fill="url(#c18s60)"/>
<rect x="1220.0" y="184.5" width="4.7" height="302.1" fill="url(#c18s61)"/>
<rect x="1224.0" y="184.5" width="4.7" height="302.1" fill="url(#c18s62)"/>
<rect x="1228.0" y="184.5" width="4.7" height="302.1" fill="url(#c18s63)"/>
<rect x="1232.0" y="184.5" width="4.7" height="302.1" fill="url(#c18s64)"/>
<rect x="1236.0" y="184.5" width="4.7" height="302.1" fill="url(#c18s65)"/>
<rect x="1240.0" y="184.5" width="4.7" height="302.1" fill="url(#c18s66)"/>
<rect x="1244.0" y="184.5" width="4.7" height="302.1" fill="url(#c18s67)"/>
<rect x="1248.0" y="184.5" width="4.7" height="302.1" fill="url(#c18s68)"/>
<rect x="1252.0" y="184.5" width="4.7" height="302.1" fill="url(#c18s69)"/>
<rect x="1256.0" y="184.5" width="4.7" height="302.1" fill="url(#c18s70)"/>
<rect x="1260.0" y="184.5" width="4.7" height="302.1" fill="url(#c18s71)"/>
<rect x="1264.0" y="184.5" width="4.7" height="302.1" fill="url(#c18s72)"/>
<rect x="1268.0" y="184.5" width="4.7" height="302.1" fill="url(#c18s73)"/>
<rect x="1272.0" y="184.5" width="4.7" height="302.1" fill="url(#c18s74)"/>
<rect x="1276.0" y="184.5" width="4.7" height="302.1" fill="url(#c18s75)"/>
<rect x="1280.0" y="184.5" width="4.7" height="302.1" fill="url(#c18s76)"/>
<rect x="1284.0" y="184.5" width="4.7" height="302.1" fill="url(#c18s77)"/>
<rect x="1288.0" y="184.5" width="4.7" height="302.1" fill="url(#c18s78)"/>
<rect x="1292.0" y="184.5" width="4.7" height="302.1" fill="url(#c18s79)"/>
<rect x="1296.0" y="184.5" width="4.7" height="302.1" fill="url(#c18s80)"/>
<rect x="1300.0" y="184.5" width="4.7" height="302.1" fill="url(#c18s81)"/>
<rect x="1304.0" y="184.5" width="4.7" height="302.1" fill="url(#c18s82)"/>
<rect x="1308.0" y="184.5" width="4.7" height="302.1" fill="url(#c18s83)"/>
<rect x="1312.0" y="184.5" width="4.7" height="302.1" fill="url(#c18s84)"/>
<rect x="1316.0" y="184.5" width="4.7" height="302.1" fill="url(#c18s85)"/>
<rect x="1320.0" y="184.5" width="4.7" height="302.1" fill="url(#c18s86)"/>
<rect x="1324.0" y="184.5" width="4.7" height="302.1" fill="url(#c18s87)"/>
<rect x="1328.0" y="184.5" width="4.7" height="302.1" fill="url(#c18s88)"/>
<rect x="1332.0" y="184.5" width="4.7" height="302.1" fill="url(#c18s89)"/>
<rect x="1336.0" y="184.5" width="4.7" height="302.1" fill="url(#c18s90)"/>
<rect x="1340.0" y="184.5" width="4.7" height="302.1" fill="url(#c18s91)"/>
<rect x="1344.0" y="184.5" width="4.7" height="302.1" fill="url(#c18s92)"/>
</g></g>
<g clip-path="url(#cwB)" filter="url(#bl1)">
<polygon points="1124.4,238.0 1111.0,300.0 1141.0,300.0" fill="url(#r19)"/>
</g>
<polygon points="884.5,170.5 970.0,127.0 977.7,137.0 993.0,160.0 1002.0,169.0 1029.0,171.5 1030.0,178.0 1075.0,185.6 1095.5,183.5 1102.0,189.4 1123.6,187.6 1128.8,183.5 1141.6,184.3 1146.7,190.7 1160.0,192.0 1170.0,190.0 1171.5,197.0 1192.0,199.7 1193.3,210.0 1212.5,208.6 1215.0,215.0 1235.5,219.0 1236.8,229.0 1251.0,233.0" fill="#ff5a00" />
<g stroke="#000" stroke-width="2.6" fill="none" stroke-linejoin="miter">
<polyline points="880.5,127.0 1095.5,17.4 1468.7,64.0 1444.0,397.0 1301.0,581.5 909.0,487.0 880.5,127.0 1095.5,17.4"/>
<line x1="880.6" y1="128.5" x2="877.1" y2="128.5" stroke-width="1.4"/>
<line x1="884.1" y1="173.0" x2="880.6" y2="173.0" stroke-width="1.4"/>
<line x1="887.5" y1="216.0" x2="884.0" y2="216.0" stroke-width="1.4"/>
<line x1="890.9" y1="258.5" x2="887.4" y2="258.5" stroke-width="1.4"/>
<line x1="894.2" y1="300.0" x2="890.7" y2="300.0" stroke-width="1.4"/>
<line x1="897.4" y1="340.0" x2="893.9" y2="340.0" stroke-width="1.4"/>
<line x1="900.5" y1="379.5" x2="897.0" y2="379.5" stroke-width="1.4"/>
<line x1="903.5" y1="418.0" x2="900.0" y2="418.0" stroke-width="1.4"/>
<line x1="906.5" y1="455.5" x2="903.0" y2="455.5" stroke-width="1.4"/>
<line x1="976.4" y1="503.3" x2="974.4" y2="506.8" stroke-width="1.6"/>
<line x1="1052.9" y1="521.7" x2="1050.9" y2="525.2" stroke-width="1.6"/>
<line x1="1131.3" y1="540.6" x2="1129.3" y2="544.1" stroke-width="1.6"/>
<line x1="1212.8" y1="560.2" x2="1210.8" y2="563.7" stroke-width="1.6"/>
<line x1="1295.1" y1="580.1" x2="1293.1" y2="583.6" stroke-width="1.6"/>
<line x1="1303.9" y1="577.8" x2="1307.9" y2="578.8" stroke-width="1.6"/>
<line x1="1332.5" y1="540.9" x2="1336.5" y2="541.9" stroke-width="1.6"/>
<line x1="1358.9" y1="506.8" x2="1362.9" y2="507.8" stroke-width="1.6"/>
<line x1="1383.9" y1="474.5" x2="1387.9" y2="475.5" stroke-width="1.6"/>
<line x1="1406.8" y1="445.0" x2="1410.8" y2="446.0" stroke-width="1.6"/>
<line x1="1428.3" y1="417.3" x2="1432.3" y2="418.3" stroke-width="1.6"/>
</g>
<text transform="translate(891.9 44.6) scale(1 1.06)" font-family='"Liberation Serif", "Times New Roman", serif' font-size="34.5" font-weight="bold" text-anchor="middle">B</text>
<text transform="translate(871.0 132.0) scale(0.91 1)" font-family='"Liberation Sans", Arial, sans-serif' font-size="24.75" font-weight="bold" font-style="normal" text-anchor="end" dominant-baseline="central" >16</text>
<text transform="translate(874.5 177.7) scale(0.91 1)" font-family='"Liberation Sans", Arial, sans-serif' font-size="24.75" font-weight="bold" font-style="normal" text-anchor="end" dominant-baseline="central" >14</text>
<text transform="translate(877.5 220.0) scale(0.91 1)" font-family='"Liberation Sans", Arial, sans-serif' font-size="24.75" font-weight="bold" font-style="normal" text-anchor="end" dominant-baseline="central" >12</text>
<text transform="translate(881.0 262.7) scale(0.91 1)" font-family='"Liberation Sans", Arial, sans-serif' font-size="24.75" font-weight="bold" font-style="normal" text-anchor="end" dominant-baseline="central" >10</text>
<text transform="translate(884.5 304.7) scale(0.91 1)" font-family='"Liberation Sans", Arial, sans-serif' font-size="24.75" font-weight="bold" font-style="normal" text-anchor="end" dominant-baseline="central" >8</text>
<text transform="translate(888.0 343.4) scale(0.91 1)" font-family='"Liberation Sans", Arial, sans-serif' font-size="24.75" font-weight="bold" font-style="normal" text-anchor="end" dominant-baseline="central" >6</text>
<text transform="translate(891.0 383.3) scale(0.91 1)" font-family='"Liberation Sans", Arial, sans-serif' font-size="24.75" font-weight="bold" font-style="normal" text-anchor="end" dominant-baseline="central" >4</text>
<text transform="translate(894.5 423.8) scale(0.91 1)" font-family='"Liberation Sans", Arial, sans-serif' font-size="24.75" font-weight="bold" font-style="normal" text-anchor="end" dominant-baseline="central" >2</text>
<text transform="translate(898.0 460.0) scale(0.91 1)" font-family='"Liberation Sans", Arial, sans-serif' font-size="24.75" font-weight="bold" font-style="normal" text-anchor="end" dominant-baseline="central" >0</text>
<text transform="translate(828 317) rotate(-94.4) scale(0.91 1)" font-family='"Liberation Sans", Arial, sans-serif' font-size="28.6" font-weight="bold" text-anchor="middle" dominant-baseline="central"><tspan font-style="italic">G</tspan> (kJ/mol)</text>
<text transform="translate(960.5 524.0) scale(0.91 1)" font-family='"Liberation Sans", Arial, sans-serif' font-size="24.75" font-weight="bold" font-style="normal" text-anchor="middle" dominant-baseline="central" >2</text>
<text transform="translate(1037.0 541.5) scale(0.91 1)" font-family='"Liberation Sans", Arial, sans-serif' font-size="24.75" font-weight="bold" font-style="normal" text-anchor="middle" dominant-baseline="central" >1</text>
<text transform="translate(1116.0 561.0) scale(0.91 1)" font-family='"Liberation Sans", Arial, sans-serif' font-size="24.75" font-weight="bold" font-style="normal" text-anchor="middle" dominant-baseline="central" >0</text>
<text transform="translate(1196.0 582.0) scale(0.91 1)" font-family='"Liberation Sans", Arial, sans-serif' font-size="24.75" font-weight="bold" font-style="normal" text-anchor="middle" dominant-baseline="central" >-1</text>
<text transform="translate(1281.0 602.0) scale(0.91 1)" font-family='"Liberation Sans", Arial, sans-serif' font-size="24.75" font-weight="bold" font-style="normal" text-anchor="middle" dominant-baseline="central" >-2</text>
<text transform="translate(1330.0 584.0) scale(0.91 1)" font-family='"Liberation Sans", Arial, sans-serif' font-size="24.75" font-weight="bold" font-style="normal" text-anchor="middle" dominant-baseline="central" >-2</text>
<text transform="translate(1356.0 545.0) scale(0.91 1)" font-family='"Liberation Sans", Arial, sans-serif' font-size="24.75" font-weight="bold" font-style="normal" text-anchor="middle" dominant-baseline="central" >-1</text>
<text transform="translate(1380.0 512.0) scale(0.91 1)" font-family='"Liberation Sans", Arial, sans-serif' font-size="24.75" font-weight="bold" font-style="normal" text-anchor="middle" dominant-baseline="central" >0</text>
<text transform="translate(1403.0 480.0) scale(0.91 1)" font-family='"Liberation Sans", Arial, sans-serif' font-size="24.75" font-weight="bold" font-style="normal" text-anchor="middle" dominant-baseline="central" >1</text>
<text transform="translate(1428.0 449.0) scale(0.91 1)" font-family='"Liberation Sans", Arial, sans-serif' font-size="24.75" font-weight="bold" font-style="normal" text-anchor="middle" dominant-baseline="central" >2</text>
<text transform="translate(1451.0 420.0) scale(0.91 1)" font-family='"Liberation Sans", Arial, sans-serif' font-size="24.75" font-weight="bold" font-style="normal" text-anchor="middle" dominant-baseline="central" >3</text>
<text transform="translate(1080.5 596.5) rotate(14) scale(0.91 1)" font-family='"Liberation Sans", Arial, sans-serif' font-size="29.15" font-weight="bold" font-style="normal" text-anchor="middle" dominant-baseline="central" >PC2</text>
<text transform="translate(1431.0 519.0) rotate(-52) scale(0.91 1)" font-family='"Liberation Sans", Arial, sans-serif' font-size="29.15" font-weight="bold" font-style="normal" text-anchor="middle" dominant-baseline="central" >PC1</text>
<rect x="1476.4" y="91.8" width="107.8" height="214.9" fill="#fff" stroke="#000" stroke-width="2"/>
<rect x="1490.2" y="109.5" width="41.8" height="13.5" fill="#1a0070"/>
<text transform="translate(1543.3 115.7)" font-family='"Liberation Sans", Arial, sans-serif' font-size="18.50" font-weight="normal" font-style="normal" text-anchor="start" dominant-baseline="central" >0</text>
<rect x="1490.2" y="130.4" width="41.8" height="13.5" fill="#00008c"/>
<text transform="translate(1543.3 136.6)" font-family='"Liberation Sans", Arial, sans-serif' font-size="18.50" font-weight="normal" font-style="normal" text-anchor="start" dominant-baseline="central" >2</text>
<rect x="1490.2" y="151.3" width="41.8" height="13.5" fill="#0000e8"/>
<text transform="translate(1543.3 157.5)" font-family='"Liberation Sans", Arial, sans-serif' font-size="18.50" font-weight="normal" font-style="normal" text-anchor="start" dominant-baseline="central" >4</text>
<rect x="1490.2" y="172.2" width="41.8" height="13.5" fill="#00509c"/>
<text transform="translate(1543.3 178.4)" font-family='"Liberation Sans", Arial, sans-serif' font-size="18.50" font-weight="normal" font-style="normal" text-anchor="start" dominant-baseline="central" >6</text>
<rect x="1490.2" y="193.1" width="41.8" height="13.5" fill="#00c01c"/>
<text transform="translate(1543.3 199.3)" font-family='"Liberation Sans", Arial, sans-serif' font-size="18.50" font-weight="normal" font-style="normal" text-anchor="start" dominant-baseline="central" >8</text>
<rect x="1490.2" y="214.0" width="41.8" height="13.5" fill="#98e400"/>
<text transform="translate(1543.3 220.2)" font-family='"Liberation Sans", Arial, sans-serif' font-size="18.50" font-weight="normal" font-style="normal" text-anchor="start" dominant-baseline="central" >10</text>
<rect x="1490.2" y="234.9" width="41.8" height="13.5" fill="#ffe600"/>
<text transform="translate(1543.3 241.1)" font-family='"Liberation Sans", Arial, sans-serif' font-size="18.50" font-weight="normal" font-style="normal" text-anchor="start" dominant-baseline="central" >12</text>
<rect x="1490.2" y="255.8" width="41.8" height="13.5" fill="#ff9c00"/>
<text transform="translate(1543.3 262.0)" font-family='"Liberation Sans", Arial, sans-serif' font-size="18.50" font-weight="normal" font-style="normal" text-anchor="start" dominant-baseline="central" >14</text>
<rect x="1490.2" y="276.7" width="41.8" height="13.5" fill="#ff5400"/>
<text transform="translate(1543.3 282.9)" font-family='"Liberation Sans", Arial, sans-serif' font-size="18.50" font-weight="normal" font-style="normal" text-anchor="start" dominant-baseline="central" >16</text>
</g>
</svg>
</body>
</html>
